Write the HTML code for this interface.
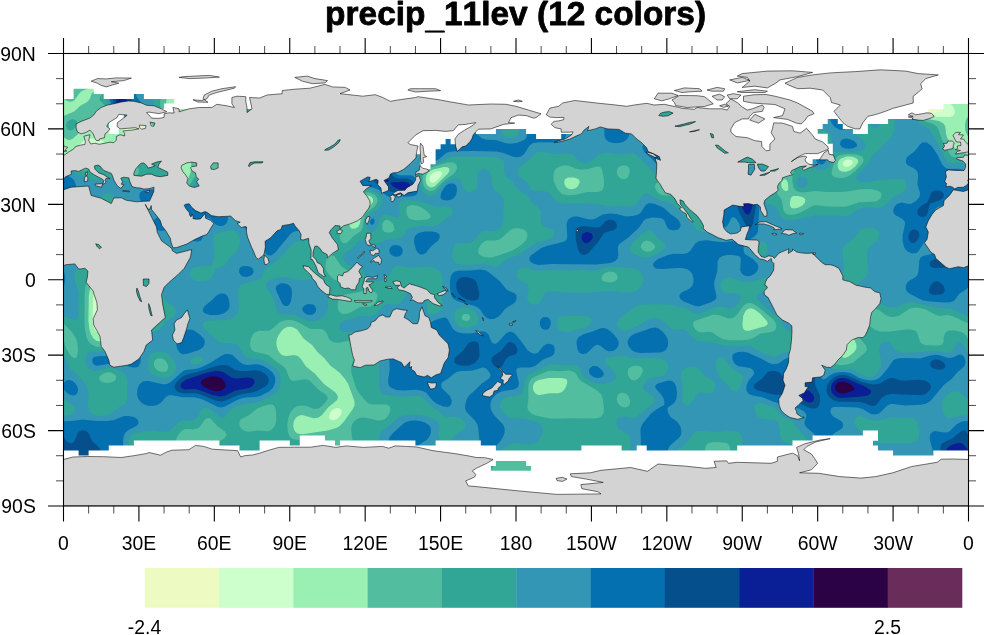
<!DOCTYPE html>
<html><head><meta charset="utf-8"><title>precip_11lev (12 colors)</title>
<style>
html,body{margin:0;padding:0;background:#fff;overflow:hidden}
svg{display:block}
.mj{stroke:#000;stroke-width:1.1;fill:none}
.mn{stroke:#000;stroke-width:0.7;fill:none}
.tl{font:20.3px "Liberation Sans",Arial,Helvetica,sans-serif;fill:#000}
.tt{font:bold 33.4px "Liberation Sans",Arial,Helvetica,sans-serif;fill:#000;font-kerning:none;letter-spacing:0.02px;stroke:#000;stroke-width:0.8px;stroke-linejoin:round}
.ld{fill:#d3d3d3;stroke:#000;stroke-width:0.55;stroke-linejoin:round}
</style></head>
<body>
<svg width="984" height="635" viewBox="0 0 984 635">
<rect width="984" height="635" fill="#fff"/>
<clipPath id="mc"><rect x="63.5" y="53.5" width="905.0" height="452.5"/></clipPath>
<g clip-path="url(#mc)">
<rect x="63.5" y="53.5" width="905.0" height="452.5" fill="#3296b4"/>
<path fill="#32a696" fill-rule="evenodd" d="M14.0 28.6L112.5 28.6L112.7 82.6L111.4 88.1L106.4 96.1L105.8 99.1L113.5 114.2L116.5 116.4L121.0 117.2L127.0 116.3L139.0 112.2L151.0 111.5L152.5 110.7L153.2 109.6L153.7 105.1L153.1 93.1L153.4 28.6L387.3 28.6L387.0 93.6L387.7 99.1L390.6 108.6L390.6 111.6L388.6 114.1L381.5 116.7L378.8 118.6L377.9 121.6L380.5 129.1L380.2 132.1L377.3 134.6L366.5 138.4L362.7 141.1L361.5 143.1L360.8 146.1L360.6 158.1L359.5 162.6L358.0 164.6L353.1 168.6L347.7 174.1L338.7 179.6L337.3 182.1L337.4 185.6L338.4 187.6L340.3 189.6L345.0 191.9L349.5 192.2L361.0 189.9L368.5 189.8L375.5 191.8L380.0 195.6L381.3 198.1L381.7 200.6L381.2 203.6L379.8 207.1L377.3 210.1L369.5 214.5L367.8 216.6L366.6 219.6L366.1 224.1L366.6 228.1L368.0 230.6L370.0 231.8L373.5 231.7L376.2 229.6L377.7 226.6L380.3 217.6L382.5 214.9L386.5 214.4L396.0 217.4L398.5 217.1L399.4 215.6L399.8 213.1L398.9 203.6L400.0 201.9L402.5 200.8L408.5 200.2L416.5 200.7L423.5 202.2L434.5 206.5L448.5 206.8L451.8 208.6L452.6 210.1L452.7 212.1L452.0 214.1L450.3 216.1L438.4 224.6L433.0 226.1L419.0 226.2L410.5 227.7L407.3 229.6L403.3 236.1L400.1 238.1L386.5 239.8L378.5 243.6L375.5 244.2L370.5 243.4L363.0 240.4L359.5 240.8L357.1 242.6L352.3 248.6L344.5 253.7L343.2 256.1L343.2 259.1L344.5 262.1L347.5 264.5L351.0 265.7L358.5 266.9L361.1 268.1L363.2 270.6L366.8 278.6L369.5 280.4L373.5 281.3L380.5 281.0L386.0 279.0L388.8 276.1L392.5 268.6L394.0 267.1L396.5 266.1L401.0 265.9L412.0 267.7L427.5 266.6L432.0 267.2L436.0 268.6L440.1 271.6L441.5 273.9L442.3 276.6L442.6 282.6L441.8 294.6L442.6 306.6L441.1 310.1L437.5 313.1L433.0 314.4L429.5 313.9L427.9 312.6L427.0 310.6L426.8 299.6L425.2 295.1L422.9 293.1L419.5 291.7L415.5 291.3L411.5 291.6L408.6 292.6L406.4 294.1L401.5 302.1L399.1 304.1L396.0 304.8L388.5 304.1L385.0 304.8L382.0 306.9L375.7 314.1L372.0 316.2L369.0 316.5L360.0 315.9L344.9 320.6L342.5 321.9L340.7 323.6L339.6 326.1L339.5 328.6L340.9 331.1L343.4 332.1L356.0 331.8L360.5 332.8L364.5 335.7L376.7 347.6L378.2 351.1L378.9 355.6L379.3 387.6L380.1 391.1L381.8 393.1L387.0 395.0L398.5 396.2L406.0 396.4L416.0 395.4L420.5 396.1L424.0 398.3L430.5 405.5L437.9 410.6L443.5 415.5L447.0 416.9L455.5 416.8L459.5 417.7L464.0 421.2L465.4 423.6L465.8 425.6L465.3 427.6L464.0 429.1L457.0 433.6L450.0 441.1L446.0 442.8L442.0 441.9L439.5 438.9L438.9 435.1L439.6 425.6L438.3 422.1L434.3 419.6L426.0 416.3L421.5 415.1L416.5 414.7L408.0 415.0L400.5 416.2L397.5 418.1L390.9 424.6L381.4 431.6L379.5 435.1L378.7 441.1L379.2 459.1L377.8 478.6L377.9 531.1L324.6 531.1L324.3 492.6L325.4 481.1L325.0 476.8L324.1 474.6L322.5 472.7L315.3 468.1L313.0 465.3L312.0 461.6L311.9 451.6L310.7 448.1L307.5 445.7L302.5 444.9L297.0 445.6L292.7 447.6L286.7 453.6L279.8 458.6L278.1 460.6L277.1 463.1L276.6 467.6L277.5 479.6L277.3 531.1L239.3 531.1L239.2 452.6L238.5 448.1L237.2 445.6L235.0 444.1L232.0 443.7L225.0 444.9L220.0 447.3L213.5 455.1L206.3 460.6L201.1 467.1L194.5 472.6L192.5 475.6L191.6 480.1L192.7 492.1L192.5 531.1L141.9 531.1L142.0 476.1L141.1 472.6L139.6 470.1L131.8 464.6L129.4 461.1L128.8 458.1L129.2 449.6L128.6 441.6L129.7 437.1L131.5 435.1L134.5 433.4L147.5 430.7L153.5 430.5L164.0 431.9L168.5 431.2L171.5 429.3L177.5 423.1L180.5 421.0L184.0 420.2L192.0 420.6L195.0 419.6L198.0 416.5L201.6 409.6L204.0 408.0L207.0 408.1L210.0 409.2L220.0 416.9L222.0 417.9L223.5 417.9L225.0 416.9L229.6 410.6L234.0 407.5L245.0 403.9L256.0 402.3L261.0 401.0L273.0 395.3L277.1 392.1L279.9 386.6L280.9 378.6L279.6 373.1L276.0 368.6L269.0 363.4L263.5 360.4L259.0 359.2L250.0 358.3L246.5 357.0L243.5 354.1L239.0 346.5L236.5 344.4L232.5 343.4L222.5 343.0L218.5 341.7L204.9 329.1L203.0 326.1L202.8 323.6L204.0 322.0L207.0 320.8L225.5 320.1L230.5 319.0L234.5 316.9L237.0 314.1L238.5 310.1L238.9 305.6L237.9 292.6L238.7 288.6L240.5 285.7L244.0 283.7L256.5 280.7L261.0 278.6L262.2 277.1L264.5 271.1L266.2 268.6L278.2 260.1L291.5 245.2L295.0 242.1L299.0 240.7L308.5 240.8L311.0 240.0L313.0 238.5L314.9 235.1L316.6 227.1L318.0 223.6L319.9 221.1L324.5 217.1L326.5 213.6L327.8 205.6L327.1 197.6L325.1 193.1L319.0 186.6L314.0 179.4L310.5 177.0L306.0 175.9L299.0 175.9L293.5 177.3L290.5 179.7L285.0 187.4L283.0 188.7L280.0 189.5L267.5 188.7L249.0 188.6L244.5 189.2L237.0 191.3L234.5 191.4L232.0 190.4L227.0 185.5L223.5 183.6L219.5 183.0L210.0 182.8L200.0 180.7L197.5 181.4L195.5 182.9L191.8 189.6L190.0 191.7L187.0 192.9L182.0 193.1L176.5 192.2L172.0 190.3L168.7 187.6L164.0 181.9L161.5 180.6L151.0 180.6L138.5 182.2L132.5 182.2L127.5 181.2L119.5 177.5L116.0 176.9L102.5 179.6L91.0 179.7L87.0 178.6L71.0 171.5L58.0 163.6L54.5 163.0L47.0 163.4L43.9 162.6L42.0 161.1L40.5 159.1L36.0 149.1L24.5 129.7L20.1 126.6L13.5 125.6L13.5 28.6ZM162.7 149.1L161.0 150.0L160.1 151.1L159.8 154.1L162.0 156.3L165.5 156.6L167.6 154.6L167.9 151.6L166.0 149.5ZM281.2 277.1L275.0 278.2L269.3 280.1L267.0 281.7L266.0 284.1L266.2 286.6L267.2 289.1L273.6 298.6L276.4 309.6L278.2 312.6L282.5 314.3L294.5 314.8L305.5 319.9L311.0 321.3L315.0 321.2L318.5 320.2L321.4 318.6L324.2 316.1L326.6 312.6L327.8 309.1L328.7 293.1L327.5 287.1L323.8 282.1L320.5 279.8L317.0 278.8L313.0 278.8L301.0 280.5L288.5 277.4ZM503.0 28.6L517.8 28.6L517.9 105.1L517.3 117.6L519.1 130.6L518.3 133.6L516.8 135.6L514.4 137.1L511.5 137.9L508.0 137.6L504.5 135.9L502.0 133.1L501.2 130.1L503.2 117.6L502.6 105.1ZM620.0 28.6L767.4 28.6L767.5 80.1L766.8 92.1L767.6 97.6L769.9 101.1L776.5 105.7L779.0 108.6L780.1 112.6L780.4 124.1L781.5 126.7L783.5 128.7L786.0 129.6L788.5 129.8L801.5 127.8L819.0 128.3L825.0 130.6L830.1 135.1L831.6 138.1L832.2 141.6L831.9 148.6L831.0 150.5L825.0 150.4L819.1 149.1L816.0 147.3L810.5 142.3L806.0 140.6L803.0 140.5L800.0 141.3L797.8 143.1L796.5 145.6L796.2 148.1L796.7 151.1L798.0 154.0L799.6 156.1L806.8 161.6L813.5 168.0L817.0 169.7L820.5 170.3L825.0 169.3L828.7 166.1L830.7 161.6L832.2 153.1L833.0 151.7L857.5 151.5L862.3 150.6L864.7 149.1L865.6 146.1L864.3 142.1L862.0 139.5L855.8 135.1L854.2 132.1L854.5 129.6L856.5 124.8L858.5 121.1L860.5 118.7L862.5 117.7L865.0 118.3L867.0 120.2L871.0 126.4L874.0 128.3L876.0 128.2L877.5 127.4L880.3 123.6L881.3 120.1L881.4 116.6L879.0 105.6L878.6 100.6L879.3 96.1L883.0 87.9L883.9 82.6L883.8 28.6L1018.5 28.6L1018.5 94.1L1012.4 95.1L1010.3 96.6L1009.6 98.6L1010.4 100.6L1012.0 101.8L1014.5 102.6L1018.5 102.9L1018.5 178.7L1000.5 180.0L994.5 179.5L975.5 171.3L963.0 163.6L959.5 163.0L951.5 163.4L948.1 162.1L945.5 159.1L940.8 149.1L929.8 130.1L926.9 127.6L918.5 123.0L917.0 120.8L914.5 113.4L912.5 110.0L905.5 104.4L900.0 97.6L897.5 96.1L894.5 95.7L891.5 97.1L890.3 100.1L891.1 104.6L895.2 111.1L896.1 114.1L895.9 117.1L894.3 124.6L893.7 132.1L892.8 135.1L891.0 137.9L884.6 143.6L879.2 150.1L872.3 155.6L867.7 164.6L858.4 173.6L856.8 176.1L856.2 178.1L856.5 179.6L858.0 181.0L863.0 182.2L868.5 181.8L879.0 179.9L897.0 178.8L902.5 179.1L905.1 180.6L906.1 182.6L906.4 186.1L905.7 189.1L904.5 191.1L902.4 192.6L893.5 196.7L885.5 205.1L882.0 207.2L878.0 207.8L866.5 207.3L861.5 207.9L857.5 209.6L850.0 215.2L846.0 216.4L833.5 215.6L815.0 215.4L794.5 220.0L789.0 220.3L785.0 219.5L782.2 218.1L780.2 216.1L776.5 208.3L774.9 206.1L772.5 204.7L767.5 203.9L765.5 201.6L764.9 198.6L765.3 195.1L769.1 187.6L770.1 183.1L769.5 176.6L767.5 171.3L765.5 168.9L763.0 167.4L758.5 166.1L753.5 165.6L749.0 166.1L745.8 167.6L743.8 170.1L740.3 177.6L733.5 181.9L727.0 187.3L722.5 188.8L709.5 189.5L706.0 191.0L703.5 193.6L701.9 197.1L701.1 201.6L700.9 206.6L701.7 210.6L704.1 214.6L711.6 220.6L713.6 225.1L713.7 227.6L713.0 229.7L711.5 231.2L709.0 232.1L702.0 231.9L696.5 229.4L687.3 218.6L673.5 204.4L670.5 203.0L659.0 199.9L647.5 193.5L645.5 193.5L643.5 194.5L636.5 204.0L634.0 205.8L631.5 206.6L621.0 205.7L609.5 206.4L595.5 204.0L574.5 203.1L564.0 203.9L559.5 203.1L556.0 201.0L550.0 194.1L547.0 191.9L543.5 191.1L535.0 190.8L532.0 189.7L526.6 182.1L519.8 177.6L518.2 175.6L517.6 171.1L519.2 167.1L527.6 161.1L533.5 154.7L536.5 152.6L541.0 151.8L554.0 154.1L566.0 153.7L570.0 154.1L574.0 156.0L580.3 162.1L584.5 163.4L589.5 162.0L597.5 155.4L602.0 153.6L608.5 153.1L620.5 154.4L631.5 153.2L634.5 154.1L637.5 156.1L646.5 164.4L654.0 172.5L659.0 175.2L663.5 175.9L673.5 175.8L683.5 177.3L686.5 177.3L688.5 176.6L690.5 175.1L692.4 172.6L693.8 169.6L694.7 165.6L694.9 161.6L694.1 158.1L692.7 155.6L683.9 149.1L678.5 142.7L671.5 136.7L665.5 128.7L655.9 123.6L650.0 117.7L642.5 112.1L635.0 102.8L629.5 93.3L622.4 87.6L620.0 84.6L619.0 79.6L620.1 68.1ZM800.9 176.6L799.0 177.4L797.5 179.1L796.7 181.1L796.6 183.6L797.3 185.6L798.7 187.1L800.5 187.8L803.0 187.9L805.0 187.1L806.7 185.6L807.5 183.6L807.6 181.6L806.6 179.1L805.2 177.6L803.0 176.6ZM451.0 157.1L492.5 156.9L498.0 157.8L502.0 159.7L503.8 161.6L504.5 163.6L504.0 171.6L505.1 175.1L507.0 177.3L512.5 181.6L518.0 190.0L526.5 195.1L531.6 202.6L539.7 209.1L541.3 212.6L541.0 221.1L541.7 224.1L544.5 226.8L551.0 229.2L553.2 230.6L554.3 233.1L553.2 236.1L551.5 237.8L549.0 239.2L537.0 242.5L519.0 254.6L505.6 259.6L499.0 265.5L497.0 266.4L494.5 266.4L487.0 264.4L482.0 263.7L467.5 264.9L462.0 264.8L458.0 264.1L455.0 262.6L452.9 259.6L452.2 254.6L453.5 247.7L455.8 244.1L459.5 242.9L467.5 243.4L470.5 242.8L473.5 240.9L479.5 233.9L482.5 231.7L486.0 230.8L495.5 230.9L498.0 229.9L500.5 227.6L502.7 224.1L503.6 220.6L503.5 211.1L504.3 202.1L503.7 199.1L502.3 196.6L495.5 190.6L493.2 187.6L492.1 184.1L491.6 176.6L490.4 173.1L488.0 170.5L484.5 169.0L481.0 169.7L478.1 172.6L477.2 176.1L477.6 183.6L477.3 186.6L475.6 189.6L473.0 191.4L469.0 192.2L466.0 191.3L464.2 189.1L461.0 180.5L459.0 178.9L456.0 178.5L450.5 179.8L446.0 182.1L442.5 185.4L437.0 192.5L433.5 195.1L429.0 195.8L426.5 195.1L424.5 193.7L421.9 190.1L420.2 184.1L418.7 172.1L418.8 169.6L419.7 167.6L423.0 165.7L437.0 163.4L447.0 158.4ZM401.0 164.5L403.1 164.6L405.4 166.1L406.0 168.1L405.0 169.6L402.0 170.6L399.5 169.6L398.8 168.1L399.0 166.6ZM1014.5 192.5L1018.5 192.2L1018.5 351.0L1000.5 351.3L995.0 351.9L993.0 352.9L991.6 354.6L990.5 360.1L991.1 364.1L992.6 367.1L995.0 369.6L997.5 370.7L1001.5 370.9L1012.0 368.3L1018.5 367.7L1018.5 415.0L1002.0 415.3L997.9 414.1L994.8 411.6L993.4 409.1L992.8 406.6L993.8 393.6L993.4 390.1L992.0 386.6L987.2 380.1L974.5 367.7L965.5 348.6L962.5 344.1L959.5 341.8L958.0 341.8L957.0 342.5L953.1 349.6L951.0 351.5L949.0 352.3L946.0 352.4L934.0 350.8L921.0 352.1L905.0 352.7L900.5 352.4L897.0 351.3L894.5 349.4L891.4 344.6L889.5 342.8L886.5 341.8L883.5 342.2L880.7 344.1L879.3 347.6L879.4 352.6L881.4 362.1L880.9 365.6L879.6 369.6L877.7 373.1L875.0 375.6L872.0 376.9L868.5 377.2L861.8 375.6L854.5 370.6L851.0 369.2L846.5 368.7L835.5 369.0L832.0 368.5L829.9 367.1L826.7 361.1L824.0 358.8L820.5 357.8L812.0 357.0L805.5 353.7L802.0 352.6L793.5 351.9L786.0 352.2L781.5 353.5L775.5 356.6L772.5 356.9L761.5 352.5L753.0 347.6L749.5 346.3L745.0 345.9L729.0 346.0L721.0 344.7L710.0 341.7L698.5 341.2L694.0 338.8L685.5 330.1L682.5 329.1L676.0 329.8L673.0 329.3L670.0 327.4L663.0 320.8L657.5 318.5L653.0 318.1L649.0 319.0L637.6 326.1L625.5 330.7L623.0 330.7L620.6 329.6L618.6 327.6L617.3 325.1L617.3 321.6L619.6 318.6L633.5 307.6L637.0 305.8L641.5 304.8L650.5 304.3L669.5 304.5L684.4 308.1L693.5 312.7L697.5 313.7L702.0 312.9L711.0 308.6L717.0 307.0L721.5 306.8L729.0 308.5L732.5 308.3L735.5 306.6L738.6 303.1L740.5 299.6L740.6 296.6L739.3 294.6L737.0 293.4L734.0 293.0L727.0 293.5L725.0 293.0L723.0 291.7L721.0 288.7L720.4 285.6L721.1 282.6L723.0 279.9L726.5 277.8L730.5 277.3L741.5 281.6L749.0 282.3L754.5 281.3L763.0 278.0L766.5 277.6L773.0 278.9L777.4 281.6L779.5 285.6L779.0 290.0L777.0 292.4L774.0 293.5L763.0 292.1L759.0 292.9L757.3 294.1L756.2 296.1L756.3 297.6L757.4 299.6L770.0 311.2L779.3 318.1L781.3 321.1L784.0 327.6L786.5 330.3L790.0 331.3L797.5 330.9L805.0 331.9L808.5 331.5L810.5 330.3L811.8 328.6L815.5 318.6L818.5 315.2L823.5 313.8L835.5 313.7L838.0 312.7L839.4 311.1L840.9 306.1L841.0 304.1L840.5 303.1L837.5 302.7L826.0 303.3L822.5 302.8L820.2 301.6L819.0 300.1L818.5 298.1L818.8 296.1L821.4 292.6L829.0 287.1L839.5 277.6L842.9 273.1L844.0 267.6L842.5 257.6L842.3 253.1L843.0 249.1L844.5 246.0L846.8 243.6L853.2 238.6L860.5 229.9L864.0 228.2L869.0 227.5L873.5 228.1L876.5 229.6L878.6 232.1L879.2 235.6L878.6 238.1L877.4 240.1L869.5 246.6L867.2 250.6L866.7 255.6L868.3 267.1L867.3 274.1L866.0 276.6L864.1 278.6L845.7 293.6L843.1 298.6L842.8 300.6L843.5 301.6L866.5 301.7L874.5 302.2L880.5 303.4L889.5 307.2L893.0 307.8L897.5 306.9L906.5 302.2L912.0 301.9L937.0 307.8L951.5 309.0L963.0 314.6L972.5 317.5L978.5 320.0L980.7 320.1L982.2 318.6L983.2 314.6L983.8 297.6L983.0 289.6L979.7 279.6L979.7 274.1L981.0 271.3L982.9 269.6L992.5 266.6L993.5 265.1L993.7 263.1L993.1 259.6L991.5 256.6L989.1 254.6L983.0 251.3L981.0 249.0L980.0 244.1L980.8 237.6L982.7 233.1L985.5 230.8L989.0 229.8L999.5 229.4L1002.5 228.1L1004.5 226.3L1006.2 222.6L1006.9 218.1L1005.5 204.6L1006.0 200.1L1007.0 197.6L1009.1 195.1L1011.5 193.5ZM106.0 193.6L108.5 193.3L111.0 194.1L113.0 195.8L114.4 198.6L115.2 204.6L114.2 219.6L115.1 223.6L117.0 226.8L123.6 232.6L129.5 239.6L136.2 245.1L141.0 251.5L143.0 253.4L147.0 254.8L158.0 255.4L161.0 256.8L163.0 259.1L164.2 262.1L164.6 266.1L163.4 292.6L163.8 297.1L166.0 301.1L174.2 307.1L175.6 309.6L175.9 312.1L175.4 314.1L174.0 316.1L166.3 321.1L161.0 328.3L158.0 330.5L154.0 331.5L149.5 331.5L146.0 330.3L140.0 326.9L137.5 326.7L135.0 328.5L129.0 338.3L124.0 342.1L116.4 345.6L107.0 351.0L102.5 351.7L91.0 351.4L88.7 352.1L87.0 353.6L85.6 357.6L85.8 362.6L87.6 367.1L90.5 369.9L95.0 371.0L107.5 368.2L111.5 368.1L115.5 368.7L119.5 370.2L123.2 372.6L125.8 375.6L127.3 379.1L127.3 397.6L126.8 401.1L125.9 403.1L124.3 404.6L118.0 408.1L109.7 414.1L105.5 415.5L100.5 415.9L96.5 415.4L93.5 414.3L91.0 412.6L89.4 410.6L88.3 408.1L87.8 405.1L88.7 392.6L87.0 386.6L82.3 380.1L69.5 367.7L62.0 351.2L58.5 345.3L56.0 342.5L54.0 341.7L52.3 342.1L48.1 349.6L46.0 351.5L44.0 352.3L41.0 352.4L29.5 350.8L13.5 352.1L13.5 304.8L22.5 305.4L34.0 308.1L46.5 309.0L59.0 315.0L67.5 317.5L74.0 320.1L75.5 320.2L76.5 319.6L77.5 317.6L78.3 313.1L78.6 295.6L77.9 289.6L74.7 279.6L74.7 274.1L76.0 271.2L78.0 269.5L87.5 267.1L88.7 265.6L88.9 263.6L88.2 259.6L86.5 256.6L84.1 254.6L78.4 251.6L76.1 249.1L75.0 244.6L75.7 238.1L77.5 233.5L80.5 230.8L84.0 229.9L94.0 229.5L96.5 228.6L98.6 226.6L100.2 223.1L101.0 218.1L99.7 204.6L100.0 200.6L102.1 196.1ZM229.0 230.5L232.0 230.3L234.5 231.1L237.3 233.6L239.3 237.1L240.1 240.1L240.0 243.6L239.1 247.6L237.5 250.8L230.5 257.1L225.0 264.9L223.0 266.2L217.1 268.1L215.5 269.1L212.4 276.6L210.0 279.2L206.5 280.7L201.0 281.3L196.0 280.8L192.3 279.1L190.3 276.6L189.6 273.6L190.3 270.6L192.4 268.1L197.0 266.5L209.5 266.0L211.5 265.3L212.5 264.1L213.5 260.6L214.5 252.1L213.1 239.6L213.3 237.1L214.2 235.1L217.5 233.2ZM648.5 230.5L650.5 230.3L652.0 230.9L656.7 237.1L664.1 243.1L665.3 245.6L664.3 248.6L661.7 251.1L656.9 254.1L651.0 256.8L647.0 257.8L644.0 257.8L640.5 257.0L632.0 252.8L630.4 251.1L629.9 249.1L630.6 246.6L632.4 243.6L635.8 239.6L640.0 235.7L645.0 232.2ZM760.5 242.0L763.0 241.9L764.8 242.6L766.3 244.1L767.4 246.6L767.7 249.6L767.3 252.1L766.0 254.2L764.0 255.4L761.5 255.5L758.1 254.1L755.5 252.0L754.0 249.6L754.0 247.1L755.2 245.1L757.5 243.3ZM610.5 267.1L617.5 267.0L632.5 268.3L638.3 270.1L641.4 273.1L643.0 277.1L643.1 281.6L641.4 286.1L639.4 288.6L636.5 290.7L633.0 291.9L628.5 292.6L623.5 292.5L610.0 290.8L589.5 292.4L564.5 292.5L553.5 291.2L549.5 291.3L546.5 292.4L544.5 294.1L540.5 301.6L539.0 303.4L536.5 304.6L533.5 304.8L529.5 303.3L527.5 300.5L527.2 297.1L528.7 288.6L527.7 285.1L525.0 282.5L518.2 279.1L517.0 277.7L516.5 276.1L516.9 273.1L518.4 270.1L520.5 268.2L523.0 267.5L526.0 267.8L533.5 270.1L538.0 270.7L551.0 270.1L568.0 270.4L581.0 270.1L593.0 270.9L596.5 270.6L605.0 268.0ZM459.5 308.0L463.5 307.6L468.0 308.1L472.0 309.4L474.6 311.1L476.8 314.1L478.4 318.6L478.3 321.6L477.0 324.1L472.5 326.8L467.0 328.0L461.5 327.4L457.5 325.1L454.9 320.6L454.2 314.1L455.9 310.1ZM562.0 316.1L586.0 316.1L590.5 318.1L591.6 319.6L591.8 321.6L591.0 323.6L589.7 325.1L585.5 327.5L569.0 331.8L563.5 331.8L561.0 331.1L559.0 329.7L557.8 327.6L557.2 325.1L557.3 321.6L558.1 319.1L559.5 317.3ZM159.0 352.1L164.5 352.5L168.5 354.4L172.3 358.6L175.7 364.6L176.1 368.1L175.1 371.6L172.3 375.1L168.5 377.6L163.5 378.3L156.9 376.6L151.5 373.8L148.7 370.1L148.0 367.1L147.9 363.1L148.4 359.1L149.5 356.1L151.0 354.2L152.8 353.1ZM620.5 355.6L624.0 355.7L631.0 357.9L636.0 358.6L654.5 358.1L661.5 358.8L664.5 359.9L666.6 361.6L668.0 364.1L668.6 367.1L668.0 371.1L665.1 374.6L660.5 376.7L652.0 377.7L649.5 378.4L646.1 381.1L643.7 385.1L643.0 388.1L644.0 390.8L652.1 395.6L654.6 398.1L654.9 400.6L653.4 403.1L636.5 417.1L632.5 418.0L624.5 416.6L621.0 416.6L618.0 418.1L616.7 420.6L616.6 424.1L617.9 427.6L620.5 430.0L628.0 434.4L629.8 437.1L630.6 440.1L629.8 454.6L630.0 531.1L462.7 531.1L462.8 492.1L462.3 479.1L463.0 474.6L464.5 471.7L466.5 470.1L469.5 469.2L481.0 468.9L485.5 467.9L489.0 465.0L493.5 456.8L496.0 453.8L509.0 444.9L512.0 443.5L515.0 443.0L527.0 444.6L534.0 443.9L536.6 442.6L538.8 440.6L542.2 434.1L542.9 430.6L542.5 427.6L541.0 425.1L538.0 422.8L533.5 421.0L523.5 418.5L511.5 418.1L508.5 416.9L505.0 414.4L502.0 411.1L500.3 407.1L500.5 403.1L502.5 399.6L504.5 398.0L507.5 396.7L517.5 395.7L521.0 394.2L522.5 392.4L523.4 390.1L525.1 379.1L527.0 375.6L529.5 373.9L538.0 370.3L545.5 365.9L549.5 364.5L553.0 364.4L561.5 365.4L571.5 365.0L575.5 365.6L577.8 366.6L579.4 368.1L582.8 374.6L584.7 377.1L591.0 381.3L596.0 383.4L600.0 384.1L604.0 383.9L609.0 382.4L615.0 379.5L616.3 377.6L616.4 375.6L614.7 372.1L606.6 364.6L605.1 362.1L605.0 360.0L606.0 358.8L607.6 358.1ZM198.0 356.6L201.5 356.6L203.4 357.6L203.6 359.6L202.2 361.6L199.5 363.4L196.5 364.3L193.5 364.3L191.1 363.1L190.5 361.1L191.7 359.1L194.5 357.5ZM719.5 357.5L722.0 357.4L724.5 358.5L732.0 368.4L734.5 370.3L740.5 373.3L742.3 375.1L742.9 378.1L741.5 383.7L739.4 388.6L737.0 391.2L734.5 391.6L732.0 390.3L726.0 382.9L720.2 378.1L718.8 376.1L716.3 368.6L715.6 363.1L716.6 359.6ZM690.0 366.6L694.5 366.7L698.6 368.6L705.8 376.6L714.3 381.6L715.5 384.1L715.6 387.1L714.3 391.1L711.5 393.3L708.5 393.6L701.0 392.6L698.0 393.5L695.7 395.6L691.3 403.1L689.0 404.7L686.5 405.1L684.0 404.0L682.4 400.6L682.2 387.1L680.8 375.1L681.7 372.1L683.6 369.6L686.5 367.7ZM49.5 391.1L52.5 391.4L55.0 392.6L63.5 399.3L72.8 405.1L74.5 407.1L75.1 409.1L74.9 411.1L73.6 413.1L71.5 414.6L69.0 415.4L56.5 415.5L45.5 418.0L43.0 417.9L40.7 416.6L38.8 413.6L37.3 408.1L36.8 404.1L37.4 400.6L39.5 397.2L42.5 394.2L46.0 392.0ZM954.5 391.1L957.5 391.4L960.0 392.6L968.5 399.3L977.7 405.1L979.4 407.1L980.0 409.1L979.8 411.1L978.5 413.1L976.3 414.6L973.5 415.4L961.0 415.6L950.5 418.0L947.5 417.8L945.5 416.6L943.8 413.6L942.2 407.6L941.8 403.6L942.4 400.6L944.5 397.1L947.5 394.2L951.0 392.0ZM757.0 403.6L759.5 403.1L762.5 403.5L773.3 407.6L777.7 410.6L782.5 416.4L791.5 420.0L797.2 428.6L805.0 436.6L806.1 439.6L805.4 442.1L804.0 443.3L802.0 444.0L795.0 444.3L788.0 443.5L783.5 441.5L781.5 439.4L780.2 436.6L779.2 425.1L778.0 421.6L775.0 420.0L763.0 418.9L758.5 416.9L755.9 413.6L754.4 408.6L754.8 405.6ZM857.5 416.5L861.5 416.5L870.0 419.9L875.5 420.9L880.5 420.3L891.0 417.0L900.0 417.7L909.0 417.6L913.0 418.3L916.0 420.2L918.1 424.1L919.4 431.6L918.9 437.6L917.6 440.1L916.0 441.5L910.5 443.2L892.0 442.9L880.0 443.5L874.5 442.7L871.0 440.7L865.0 434.1L858.0 429.0L855.7 426.6L854.4 423.6L854.3 420.1L855.5 417.7ZM697.5 431.1L703.0 430.9L717.5 432.2L730.0 430.7L734.0 430.7L738.5 432.1L740.2 433.6L741.4 435.6L742.3 440.6L741.1 454.6L741.3 531.1L678.2 531.1L678.5 467.1L677.2 456.6L677.3 453.1L679.4 448.6L688.0 441.5L693.3 433.1L695.0 431.9Z"/>
<path fill="#53bd9f" fill-rule="evenodd" d="M14.0 28.6L110.6 28.6L110.8 83.1L110.0 86.1L108.3 89.1L100.3 96.6L99.6 98.6L99.9 100.6L106.5 107.1L111.0 116.1L114.0 118.5L118.0 119.2L123.0 119.0L137.5 115.2L144.0 114.9L149.4 116.6L155.4 122.6L158.5 123.8L160.5 123.4L162.0 122.4L163.2 120.6L163.6 118.6L163.1 115.6L160.6 109.1L160.1 105.6L160.8 92.6L160.7 28.6L242.4 28.6L242.3 80.1L242.8 92.1L242.1 98.1L241.2 100.6L239.7 102.6L232.0 108.1L226.0 115.5L218.4 121.6L216.2 125.6L214.9 131.6L214.8 145.1L213.8 154.6L214.2 158.1L216.5 162.1L225.0 168.7L226.2 171.6L225.4 174.6L222.5 176.6L216.5 177.6L211.0 177.2L202.0 175.1L198.0 175.4L195.5 176.7L193.5 178.6L189.0 186.6L186.5 189.0L182.0 190.1L177.0 189.0L173.4 186.1L171.8 181.6L173.5 170.1L173.4 162.1L174.1 153.6L173.8 150.6L173.0 148.6L171.2 146.6L169.0 145.4L166.0 144.7L162.0 144.8L158.5 146.0L156.0 148.2L152.5 154.2L150.5 156.3L147.5 157.7L140.5 159.3L138.3 160.6L137.3 163.6L138.9 170.1L138.9 172.6L137.0 175.1L134.0 176.0L129.5 175.2L114.6 167.6L112.5 165.5L108.5 158.1L105.0 156.0L100.5 156.0L96.0 157.9L93.2 160.6L88.8 168.6L86.0 170.3L82.5 170.8L77.0 170.0L71.5 167.9L67.5 165.3L61.5 160.2L58.5 158.5L55.5 157.8L49.0 157.3L46.5 156.3L44.2 153.6L37.3 140.6L33.6 129.6L31.5 126.2L28.5 124.0L24.0 122.2L19.0 121.2L13.5 121.0L13.5 28.6ZM70.4 119.6L67.2 121.6L65.9 125.1L67.0 128.8L68.5 130.1L70.0 130.5L72.1 130.1L74.5 128.4L76.1 126.1L77.1 123.1L76.7 121.1L75.5 119.9L73.0 119.3ZM888.5 28.6L1018.5 28.6L1018.5 90.3L1012.0 90.8L1007.2 92.6L1004.0 95.6L1002.8 99.6L1003.6 103.1L1006.5 105.8L1011.5 107.3L1018.5 107.8L1018.5 157.1L1007.5 156.5L1002.0 157.5L998.1 160.6L993.5 168.8L991.0 170.2L987.0 170.7L981.5 169.8L976.5 167.9L972.5 165.3L966.5 160.3L963.5 158.6L960.5 157.8L953.5 157.2L950.6 155.6L942.0 140.1L938.5 129.6L936.8 126.6L933.2 124.1L925.0 121.3L921.5 119.3L919.1 116.6L914.5 108.7L907.3 102.6L901.6 95.6L898.5 93.5L891.5 90.8L889.3 88.6L888.4 85.6L888.0 80.6ZM975.4 119.6L972.1 121.6L970.9 125.1L972.0 128.8L973.4 130.1L975.0 130.5L977.5 129.9L979.5 128.3L981.3 125.6L982.0 123.1L981.6 121.1L980.5 119.9L978.0 119.3ZM784.5 141.1L787.0 141.6L789.0 143.8L791.8 155.1L795.0 164.1L795.2 167.1L792.6 174.6L792.3 181.1L793.5 187.6L794.8 189.6L796.5 190.9L799.5 191.9L803.5 192.4L816.0 190.9L826.5 191.9L839.5 191.9L847.5 191.4L861.0 189.2L870.5 189.1L876.5 190.2L880.3 192.1L881.6 194.6L880.8 198.1L878.8 200.1L875.5 201.5L859.5 202.2L845.5 206.7L826.5 206.4L818.0 205.2L815.0 205.3L812.0 206.3L802.7 211.6L796.5 214.0L791.0 215.0L786.5 213.9L784.5 212.1L783.4 210.1L782.0 200.6L777.0 192.9L775.9 186.6L776.6 178.1L779.7 166.6L778.3 153.6L778.5 147.6L780.5 143.1L782.5 141.6ZM848.0 154.1L856.5 154.6L861.5 156.3L862.8 157.6L863.5 159.6L863.3 161.6L862.1 164.1L855.5 170.8L850.5 174.7L847.0 176.7L843.5 177.8L840.0 178.0L836.5 177.6L833.5 176.4L831.9 174.6L831.6 172.1L834.5 161.6L836.0 158.1L837.5 156.5L840.0 155.1ZM447.0 162.6L452.0 162.3L454.4 163.1L456.0 164.3L456.8 165.6L457.1 167.6L456.7 169.6L455.4 172.1L452.8 174.6L444.0 180.8L434.5 190.2L430.5 191.2L426.5 189.8L423.7 186.1L422.6 181.1L423.0 175.1L424.8 171.1L426.5 169.5L429.1 168.1ZM563.0 165.5L568.0 165.6L576.0 168.8L581.5 169.8L587.0 169.3L597.0 166.5L600.0 167.0L601.2 168.1L602.1 170.1L603.9 179.1L604.1 185.1L603.0 188.9L601.0 191.0L598.2 192.1L587.0 192.1L574.5 195.1L567.0 195.3L562.0 193.9L558.8 191.1L555.7 186.1L553.7 181.1L553.3 176.6L554.0 172.1L555.6 169.1L558.5 166.9ZM622.0 165.6L625.0 165.5L627.1 166.1L628.8 167.6L629.6 169.6L629.6 173.1L628.6 176.1L627.0 178.1L624.5 179.2L622.0 179.1L619.5 177.7L617.7 175.6L616.9 173.1L616.9 170.6L617.9 168.1L619.5 166.6ZM665.5 181.1L672.0 181.4L676.5 183.3L677.7 184.6L678.6 186.6L678.4 188.6L677.4 190.6L673.5 193.6L668.0 195.4L663.0 195.3L659.0 193.5L657.1 191.6L655.6 189.1L655.0 186.6L655.4 184.6L656.7 183.1L658.5 182.2ZM362.0 192.6L369.0 192.6L374.2 194.6L376.2 196.6L377.2 198.6L377.4 200.6L376.9 203.1L374.6 206.6L368.0 211.4L365.5 214.4L364.0 218.6L362.4 228.1L361.0 231.1L352.9 236.6L347.5 242.2L345.0 243.2L343.0 242.9L340.7 240.6L339.7 236.6L342.1 225.6L341.9 220.6L340.0 218.4L334.0 216.2L332.6 214.6L331.9 212.6L331.2 204.1L332.1 195.1L333.0 193.6L335.0 193.1L343.5 195.6L348.0 196.0ZM412.0 205.1L418.1 206.1L424.3 209.1L429.7 214.1L430.7 216.1L430.4 217.6L429.3 218.6L427.0 219.4L418.5 220.2L413.0 220.0L409.5 218.6L408.0 217.0L406.8 214.6L406.3 209.1L407.0 207.2L408.0 206.1ZM385.5 220.0L387.5 219.9L389.5 220.6L393.1 224.1L394.5 228.6L394.0 230.4L392.8 231.6L390.5 232.5L387.0 232.6L384.5 231.8L383.0 230.5L382.1 227.6L382.4 224.1L383.5 221.6ZM513.5 228.5L518.0 228.2L522.6 229.1L525.9 231.1L527.3 233.6L527.5 236.6L526.0 240.1L523.4 243.1L519.1 246.6L512.3 250.6L493.0 257.3L489.0 257.5L484.5 257.0L481.0 255.8L478.8 254.1L478.1 251.6L478.8 248.6L481.0 244.6L483.5 242.0L487.0 240.4L495.5 240.4L499.0 239.4L502.5 237.2L510.0 230.3ZM646.5 240.6L650.5 241.4L654.3 244.6L655.0 246.1L655.0 247.6L653.0 250.1L650.0 251.4L646.5 251.7L643.5 250.6L641.5 248.8L640.7 246.6L641.5 244.0L643.8 241.6ZM330.5 255.6L332.5 255.5L334.5 256.3L341.4 266.6L351.6 273.1L352.5 274.6L352.6 276.1L351.1 278.6L346.0 280.9L339.0 281.4L334.2 279.6L329.1 275.1L326.0 270.1L325.4 264.6L327.0 258.5L328.5 256.7ZM1015.0 264.1L1018.5 264.0L1018.5 346.4L1001.5 346.5L997.1 345.1L994.1 342.6L992.0 338.6L990.4 332.6L989.4 323.1L989.2 304.1L990.2 286.6L991.2 283.1L992.4 281.1L1001.4 275.6L1007.5 266.2L1010.5 264.7ZM105.5 264.5L109.0 264.6L112.5 265.5L114.8 267.1L116.3 269.6L117.2 274.1L116.7 285.6L117.7 295.6L116.9 305.1L117.1 308.6L118.0 310.9L119.5 312.7L126.5 316.6L128.8 318.6L130.1 321.6L130.2 325.1L128.2 333.1L126.5 336.1L124.0 338.6L120.5 340.6L106.5 346.6L100.5 347.4L95.0 346.3L91.0 344.2L88.2 341.1L86.3 336.6L85.1 331.1L84.5 324.1L84.6 294.6L85.6 286.1L87.1 282.1L88.6 280.6L95.5 276.3L97.4 273.6L101.0 266.9L103.0 265.3ZM609.5 271.6L613.5 272.0L616.2 273.6L617.8 276.6L617.0 279.6L614.5 281.5L610.5 282.4L606.0 282.1L603.0 280.9L601.4 278.6L602.2 275.6L605.0 273.1ZM364.0 291.1L372.0 291.1L375.0 292.1L376.8 293.6L377.5 295.6L377.1 298.6L375.4 302.1L373.0 305.0L369.0 306.8L362.0 306.8L359.0 307.4L351.0 312.3L347.0 313.8L342.5 313.9L339.3 312.1L337.8 308.6L337.7 303.6L338.7 299.6L341.0 296.6L346.0 294.4ZM748.0 303.0L752.0 303.3L757.0 305.9L773.3 319.6L775.2 322.1L776.3 325.1L776.2 328.1L775.0 330.3L771.5 332.0L760.5 333.4L752.5 338.4L749.0 339.6L743.0 340.2L730.0 340.2L725.0 339.6L721.5 338.6L713.5 333.2L711.0 332.1L708.5 331.8L702.0 332.6L699.0 332.1L695.8 330.1L693.5 326.6L693.0 323.1L694.5 321.1L713.0 314.8L718.5 314.9L728.5 318.5L733.0 318.1L736.0 315.8L743.5 305.9L746.0 303.9ZM852.0 307.1L869.5 307.7L874.5 308.4L879.0 310.3L886.5 315.6L891.0 317.0L895.0 316.8L899.0 315.7L909.5 308.8L914.5 307.6L920.0 308.1L925.7 309.6L937.0 315.6L940.0 315.9L947.5 315.1L952.0 316.1L967.5 323.1L971.1 326.1L978.2 333.6L980.8 338.1L982.3 343.6L982.7 350.6L981.9 356.1L981.0 357.6L979.5 358.2L977.5 357.4L975.5 355.5L971.5 349.0L966.7 336.1L964.5 333.7L961.5 332.1L954.0 330.3L948.5 330.7L946.1 332.1L944.5 334.4L943.7 337.1L943.4 342.6L942.0 344.5L939.5 345.3L935.0 345.5L925.0 344.9L922.0 343.7L920.2 342.1L917.2 333.1L915.7 331.1L913.5 329.9L907.5 329.2L890.0 331.6L879.5 331.4L874.0 329.2L864.5 321.5L861.0 319.3L857.0 318.3L847.0 317.3L846.1 316.6L845.7 315.1L846.5 310.6L848.5 308.4ZM14.0 308.7L18.5 309.1L22.0 310.0L30.0 314.8L32.5 315.7L42.0 315.1L46.0 315.7L59.0 321.1L63.3 323.6L72.0 332.1L76.0 338.6L77.3 343.1L77.9 348.6L77.5 354.1L76.5 357.2L75.0 358.2L73.5 358.0L69.5 354.2L66.0 347.7L62.5 337.5L60.5 334.6L57.0 332.3L51.5 330.7L45.5 330.3L41.4 332.1L39.3 335.6L38.6 343.1L36.5 344.9L31.0 345.4L13.5 344.8L13.5 308.7ZM464.5 314.0L467.5 313.9L469.8 315.6L470.2 318.1L468.5 320.4L465.0 321.1L462.4 319.6L461.8 318.1L462.0 316.1L463.0 314.8ZM825.0 317.6L833.0 317.6L841.5 318.4L844.0 319.3L847.9 326.6L856.0 333.8L866.0 345.6L867.1 349.1L865.6 352.1L853.0 362.8L847.3 364.6L840.5 365.2L837.3 364.6L835.0 363.2L831.0 356.5L829.0 354.4L819.0 350.1L817.4 348.1L816.7 345.1L818.1 337.6L817.5 329.6L817.8 325.1L818.8 322.1L820.1 320.1L822.1 318.6ZM288.0 320.1L292.5 320.2L296.5 321.3L310.5 329.0L320.5 329.1L323.5 329.8L326.0 332.1L329.5 339.8L333.0 342.1L336.5 342.7L340.5 342.6L350.5 340.2L354.0 339.9L357.5 340.6L361.0 342.6L364.6 347.1L365.3 349.6L365.1 351.6L363.5 353.7L357.0 357.1L354.5 359.2L352.2 363.1L351.0 367.6L351.4 373.1L356.1 388.1L358.5 392.3L364.0 399.3L368.5 403.5L373.0 404.6L386.0 404.4L388.9 405.6L390.2 407.6L390.2 410.6L388.8 414.6L386.6 417.6L384.0 419.4L381.0 420.3L378.0 420.4L366.0 417.8L360.5 417.8L357.5 418.8L355.0 420.5L353.0 422.8L351.6 425.6L351.1 430.1L352.7 442.6L351.7 478.6L351.8 531.1L330.5 531.1L330.8 479.6L330.5 475.6L329.6 472.1L327.5 469.0L320.5 464.7L317.9 461.6L317.1 457.6L317.5 446.6L316.8 444.1L315.7 442.6L313.4 441.1L310.0 440.2L297.0 439.8L292.5 438.9L289.5 436.5L287.8 431.6L287.3 424.6L288.2 418.1L290.3 412.6L293.5 408.5L297.5 406.1L302.5 405.4L306.5 406.0L314.5 408.9L318.0 408.7L321.5 406.5L326.1 401.6L327.6 399.1L327.4 396.6L325.6 394.6L318.0 389.2L311.5 382.3L308.5 380.1L304.5 379.3L294.5 380.9L291.0 380.2L289.0 377.6L286.1 369.6L283.4 366.6L276.2 361.6L268.5 355.3L265.0 353.9L254.5 351.7L252.0 349.9L250.4 347.1L250.0 343.6L250.8 339.1L252.6 335.1L255.0 332.4L259.0 330.8L266.5 330.9L269.5 330.4L272.5 328.6L280.0 322.1L283.5 320.8ZM157.5 358.5L159.5 358.2L162.0 358.6L164.0 359.6L166.1 361.6L167.5 364.1L168.2 367.1L167.8 369.1L166.5 370.9L164.0 371.8L160.5 371.5L157.5 370.2L155.2 368.1L154.0 365.6L154.0 362.5L155.1 360.1ZM633.0 366.0L636.5 365.8L639.5 366.3L641.8 367.6L642.9 369.6L642.4 372.6L640.0 376.7L637.5 379.2L634.5 380.5L632.0 380.1L630.0 378.6L628.4 376.1L627.7 373.1L627.8 370.6L628.7 368.6L630.5 367.0ZM568.0 370.6L571.5 370.9L574.0 372.0L576.0 374.0L579.0 378.9L581.0 381.1L597.1 390.6L601.0 393.9L602.7 398.6L604.0 409.1L603.3 413.6L601.1 416.6L598.0 417.9L593.5 418.4L569.5 418.2L551.0 418.8L535.5 415.5L531.4 413.6L528.8 411.1L527.8 409.1L527.3 406.6L528.5 399.1L528.2 387.6L529.1 382.6L531.1 379.1L535.0 376.5L548.0 371.1L551.5 370.7L560.0 371.3ZM1017.0 371.6L1018.5 371.6L1018.5 383.1L1009.5 382.5L1006.9 381.6L1005.1 380.1L1004.8 377.6L1007.3 374.6L1011.5 372.5ZM106.5 372.5L111.0 372.5L114.5 374.3L115.6 375.6L116.1 377.6L115.0 380.6L112.0 382.3L107.5 382.9L103.0 382.3L100.0 380.6L99.1 378.6L100.0 376.1L102.5 374.1ZM620.5 393.1L623.0 392.8L625.0 393.3L627.0 394.5L628.7 396.6L629.8 399.6L630.1 402.6L629.4 405.1L628.0 406.6L625.5 407.4L622.5 407.1L619.8 405.6L618.0 403.4L616.9 400.1L617.0 396.6L618.5 394.1ZM269.0 404.6L271.9 404.6L273.8 405.6L275.1 407.6L275.9 411.1L276.4 417.1L276.0 422.1L274.7 426.1L272.4 429.1L270.0 430.6L267.5 431.2L258.0 430.6L248.5 431.7L244.5 430.9L241.1 428.6L239.7 426.1L239.3 423.6L239.7 421.1L241.0 419.3L249.0 415.2L257.2 408.6L263.0 406.2ZM207.5 418.0L209.0 418.1L211.0 419.1L217.1 426.1L224.8 431.6L226.2 433.6L226.4 435.6L224.2 438.6L215.5 444.0L210.0 451.0L202.6 456.6L197.0 463.9L190.4 469.1L187.9 472.1L186.7 475.6L186.3 479.6L186.8 492.1L186.7 531.1L174.9 531.1L174.8 477.6L177.3 458.6L175.8 444.1L176.2 439.1L178.5 434.4L182.0 430.6L185.6 429.1L194.0 429.3L197.5 428.4L200.0 426.4L205.0 419.5ZM713.5 442.1L721.0 442.2L726.5 443.1L728.7 444.6L730.0 447.6L730.5 454.6L730.4 531.1L704.9 531.1L705.0 449.6L705.7 446.1L707.1 444.1L709.5 442.8ZM526.5 454.6L533.0 454.8L537.0 456.5L538.9 458.6L543.2 465.1L551.0 471.1L553.5 474.9L554.2 480.1L553.5 492.1L553.7 531.1L468.7 531.1L469.0 492.1L467.5 480.1L468.0 477.1L469.0 475.1L470.7 473.6L473.5 472.6L485.0 472.4L489.4 471.1L492.0 468.6L497.0 459.4L499.0 457.6L502.0 456.1L507.5 455.1L518.0 455.2Z"/>
<path fill="#99f0b2" fill-rule="evenodd" d="M14.0 28.6L63.5 28.6L63.8 80.1L62.5 94.6L63.3 97.6L64.6 99.6L67.0 101.1L70.0 101.7L72.5 101.4L74.5 100.3L80.0 92.5L82.5 90.7L88.0 88.5L89.8 86.1L90.3 80.1L90.1 28.6L108.3 28.6L108.1 67.6L109.0 79.6L108.3 84.1L106.6 87.1L104.0 89.1L93.0 92.1L91.8 93.6L89.7 99.1L87.5 101.8L80.0 106.1L74.2 111.6L65.0 115.3L62.2 117.6L60.9 120.1L60.1 123.6L60.5 131.1L63.0 136.3L65.0 138.3L67.5 139.7L70.0 139.9L73.0 138.6L82.5 130.0L85.5 128.2L88.5 128.1L97.5 131.2L104.5 131.0L108.5 129.3L112.5 124.6L115.0 123.0L138.0 117.5L142.5 117.4L146.5 118.6L149.0 120.6L153.5 125.9L156.5 127.4L159.0 127.7L161.5 127.2L164.0 126.0L166.3 124.1L168.1 121.1L168.7 118.1L166.1 105.1L166.8 93.1L166.7 28.6L236.5 28.6L236.2 79.6L237.3 91.1L236.9 95.6L235.0 99.0L227.8 104.6L222.0 112.0L214.0 118.1L209.5 126.3L207.0 129.1L203.0 130.2L193.0 129.2L191.0 129.9L189.3 131.6L188.4 134.1L188.2 137.1L190.4 148.6L190.7 159.6L191.6 169.1L187.3 182.1L185.8 184.6L183.9 186.1L181.5 186.6L179.0 185.8L177.2 184.1L176.5 182.1L176.8 178.6L179.2 172.1L179.8 168.6L179.1 151.6L178.5 148.1L177.5 145.9L175.8 144.1L173.5 142.8L170.0 141.9L162.5 141.6L157.0 143.0L154.0 145.3L149.0 151.8L145.5 153.8L141.5 154.3L134.0 153.5L132.0 153.8L130.0 155.9L127.5 163.1L125.5 164.4L122.5 164.4L119.0 163.0L116.4 160.6L111.5 152.9L109.0 151.5L106.0 151.2L99.5 152.5L94.0 155.0L91.0 157.7L86.5 164.1L84.0 166.0L80.5 166.9L76.0 166.2L73.0 164.9L70.0 162.8L62.0 153.9L52.5 150.4L49.0 147.6L42.4 138.1L41.2 134.1L40.3 126.6L38.0 123.3L33.8 121.1L27.0 119.2L20.5 118.2L13.5 117.9L13.5 28.6ZM891.5 28.6L968.6 28.6L968.9 80.1L967.6 94.6L968.3 97.6L970.0 99.9L972.5 101.3L975.5 101.7L978.0 101.4L980.0 100.2L984.5 93.2L991.5 87.6L993.3 84.1L993.8 79.6L993.2 67.6L993.3 28.6L1018.5 28.6L1018.5 86.6L1008.0 87.6L1003.5 88.9L1000.0 90.8L997.9 93.1L995.3 99.6L993.0 102.5L984.5 106.1L978.0 112.1L970.5 115.0L968.0 116.6L965.8 120.1L964.9 126.1L965.5 131.1L967.1 135.1L970.0 138.4L973.5 139.9L976.0 139.6L978.5 138.3L987.0 130.4L990.5 128.4L993.0 128.3L999.5 130.5L1003.0 131.0L1018.5 130.0L1018.5 150.5L1010.0 151.5L1000.0 154.4L996.0 157.4L990.3 165.1L987.5 166.6L984.5 166.9L981.0 166.2L977.3 164.6L974.0 161.9L967.0 154.0L958.0 150.6L954.9 148.6L950.5 143.1L947.3 138.1L946.1 134.1L945.3 126.6L943.5 123.6L939.0 121.1L927.5 118.9L923.0 116.8L920.8 114.6L916.0 107.2L908.7 101.1L903.0 93.9L894.5 88.8L892.0 86.1L891.1 83.1L890.8 79.6L891.4 68.1ZM846.5 156.6L851.5 156.6L856.0 157.9L858.2 160.1L858.2 162.6L855.4 166.6L850.5 170.2L846.0 171.7L841.5 171.5L839.2 170.1L838.0 168.1L837.6 165.1L838.2 162.1L839.2 160.1L841.0 158.4ZM444.0 167.1L447.5 167.3L449.2 168.6L449.4 171.1L448.0 173.6L434.5 186.5L431.0 187.4L428.0 186.1L426.3 183.6L425.6 179.6L426.3 175.6L428.0 172.7L430.0 171.0L433.0 169.5ZM568.0 177.5L574.0 177.6L577.0 178.5L578.7 179.6L579.6 181.1L579.7 182.6L577.7 186.6L575.0 188.5L572.0 189.2L569.0 188.9L566.5 187.5L564.7 185.1L564.2 181.6L565.2 179.1ZM783.5 179.6L785.0 179.3L786.0 179.6L787.8 182.6L788.4 188.1L788.0 190.0L787.0 191.0L785.5 191.1L783.5 190.1L781.4 187.1L781.4 182.6ZM362.5 195.6L367.5 195.4L371.0 196.6L372.9 198.6L373.2 201.6L371.3 204.6L364.5 209.6L362.3 212.1L361.2 215.1L360.0 223.2L358.5 226.5L355.5 228.6L352.0 228.7L350.1 227.1L349.3 224.1L349.5 220.1L351.3 211.1L349.8 203.1L351.1 201.1L354.5 198.6L358.8 196.6ZM793.0 196.1L798.5 196.1L803.5 197.5L805.4 199.6L805.0 202.6L802.5 205.4L798.5 207.6L794.5 208.5L791.5 208.0L790.0 205.8L789.9 202.1L791.0 197.7ZM1015.0 269.6L1018.5 269.3L1018.5 340.0L1007.0 341.3L1003.5 341.2L1000.4 340.1L997.8 337.6L995.7 333.6L994.3 328.6L993.3 318.1L993.2 300.6L993.8 293.1L995.1 288.6L997.0 285.6L1005.4 280.1L1010.5 272.1L1012.5 270.5ZM107.0 271.0L110.0 271.8L111.1 273.1L111.8 275.1L110.9 286.1L113.3 297.1L113.2 307.6L113.9 311.6L116.3 315.1L122.5 319.1L124.7 321.1L126.2 324.1L126.4 328.1L125.7 331.1L124.2 334.1L122.3 336.1L120.0 337.6L115.5 339.0L103.0 341.5L100.0 341.6L96.5 340.7L93.5 338.4L91.3 335.1L89.5 330.1L88.4 321.1L88.8 295.6L89.8 290.1L91.5 286.6L99.5 279.6L104.5 272.4ZM749.5 308.5L752.0 308.6L754.5 309.5L760.0 313.6L766.9 321.1L767.8 323.6L767.0 325.1L764.5 326.4L749.0 330.7L746.0 330.8L744.0 329.7L742.9 328.1L742.4 325.1L743.2 316.1L745.5 311.1L747.5 309.3ZM828.5 320.6L834.0 321.1L838.3 323.1L844.5 330.2L851.6 336.1L854.5 340.1L856.5 345.1L856.3 349.1L853.5 352.8L848.5 356.6L845.0 357.9L842.5 357.3L841.9 355.6L841.9 349.6L839.8 345.1L836.3 341.6L826.5 334.5L823.0 330.5L821.9 327.1L822.6 323.6L825.0 321.4ZM287.0 327.1L289.5 326.7L292.5 327.1L297.1 329.6L303.5 338.6L312.1 345.1L317.5 352.1L324.6 358.6L330.5 365.8L340.0 373.1L345.0 378.9L348.0 383.6L354.1 400.1L354.7 403.1L354.5 405.6L352.8 409.1L344.0 421.5L340.0 425.8L336.5 428.1L327.5 430.5L302.5 434.2L297.5 433.5L295.5 432.1L294.2 430.1L293.3 426.6L293.5 422.6L294.9 419.1L297.0 416.7L299.5 415.4L302.0 415.1L313.5 418.2L316.5 418.1L319.0 417.3L322.0 414.9L328.5 407.0L336.6 400.6L337.6 399.1L337.9 397.1L337.0 394.6L334.9 392.1L324.0 384.1L314.7 373.6L306.0 366.6L301.0 359.1L298.5 356.6L296.5 355.5L294.0 355.1L286.5 356.0L284.0 355.8L281.5 354.8L279.3 352.6L277.7 349.6L276.6 345.6L276.3 342.1L276.9 339.1L278.6 335.1L281.5 330.9L284.0 328.6ZM548.5 378.1L561.5 378.0L566.2 379.1L567.2 380.6L567.3 382.6L566.3 386.1L564.4 389.6L562.0 392.0L558.5 393.2L549.0 393.3L540.0 395.1L537.5 394.7L535.5 393.6L533.8 391.6L532.9 388.6L533.0 385.6L534.5 382.8L536.4 381.1L539.0 380.0Z"/>
<path fill="#cdffcd" fill-rule="evenodd" d="M14.0 28.6L28.8 28.6L29.0 67.6L28.1 78.6L28.4 82.6L30.3 86.6L38.2 93.1L48.3 107.1L49.3 110.1L49.3 113.1L48.5 115.2L46.5 116.6L39.0 117.0L22.0 115.3L13.5 115.0L13.5 28.6ZM99.5 28.6L104.2 28.6L104.4 55.6L103.5 67.1L105.9 80.1L104.7 83.6L102.0 85.1L100.5 85.0L99.0 84.0L98.0 82.3L97.6 80.1L97.9 76.6L99.9 67.6L99.0 55.1ZM894.5 28.6L933.8 28.6L934.0 67.1L933.2 78.6L933.6 83.1L935.6 87.1L941.5 91.3L943.8 93.6L948.5 100.8L953.4 107.1L954.5 109.6L954.8 112.1L954.2 114.6L953.0 116.1L949.5 116.9L932.0 116.7L928.5 116.3L925.5 115.3L922.5 112.9L917.0 105.1L909.6 99.1L904.3 92.1L897.0 87.4L894.7 85.1L893.7 82.6L893.4 79.6L894.5 68.1ZM139.5 120.1L142.5 120.4L145.3 121.6L147.3 123.6L151.2 129.6L153.0 130.9L155.5 131.7L161.5 131.4L172.0 126.6L175.0 126.5L176.5 127.6L177.5 129.5L177.9 132.1L177.6 134.1L176.1 136.1L173.5 137.2L160.5 138.0L155.0 139.3L151.7 141.6L147.9 147.1L146.0 149.0L143.5 149.9L140.5 149.6L136.7 147.1L131.5 140.1L121.7 131.6L119.9 128.6L120.5 126.5L123.1 124.6L134.1 121.1ZM89.5 138.6L96.0 138.8L101.0 139.8L103.5 141.6L103.7 143.6L102.8 145.1L100.5 147.1L90.0 153.2L84.5 160.4L82.5 162.1L79.0 162.9L75.0 161.6L72.9 159.6L71.6 157.1L71.4 154.6L72.3 152.1L83.5 140.7L86.0 139.3ZM993.5 138.6L999.5 138.7L1005.0 139.9L1007.5 141.6L1008.0 144.1L1006.7 146.1L1004.8 147.6L994.8 153.1L989.5 160.2L987.5 162.0L984.0 162.9L980.5 162.0L978.2 160.1L976.7 157.6L976.4 154.6L977.2 152.1L988.0 141.0L990.5 139.4ZM846.0 160.0L849.0 159.6L851.5 160.3L852.8 161.6L852.6 163.6L851.3 165.1L849.0 166.5L846.5 166.9L844.5 166.4L843.1 165.1L842.9 163.1L844.0 161.2ZM436.5 171.5L439.5 171.3L441.5 171.9L442.2 173.1L441.9 174.6L439.4 178.1L436.0 181.4L433.5 182.8L431.2 182.6L429.4 180.1L430.0 176.0L432.5 173.1ZM99.5 288.0L102.0 287.9L104.0 288.9L106.5 291.9L108.4 295.6L109.6 300.6L109.7 311.6L111.1 316.1L113.5 318.6L120.1 322.1L122.4 325.1L122.8 327.6L122.2 330.6L120.5 333.0L118.5 334.3L114.0 334.6L106.0 331.9L98.5 332.8L96.0 331.5L94.0 328.5L93.0 325.1L92.5 320.6L93.0 297.3L93.8 293.6L95.0 291.1L97.0 289.1ZM1002.5 289.6L1006.0 289.5L1013.5 293.0L1018.5 293.8L1018.5 330.6L1014.5 331.1L1006.0 333.7L1003.0 333.3L1000.4 331.1L998.5 327.1L997.5 321.6L997.8 297.1L999.5 292.1ZM830.5 326.9L832.0 327.0L832.5 328.1L831.0 328.1ZM337.0 408.1L339.5 408.3L341.2 409.6L341.7 412.1L340.7 415.1L338.8 417.6L336.0 419.5L333.0 420.2L330.5 419.6L329.5 418.5L329.0 416.6L330.2 412.6L333.0 409.6Z"/>
<path fill="#edfac2" fill-rule="evenodd" d="M14.0 28.6L22.8 28.6L23.0 85.1L23.7 88.1L25.0 90.2L33.7 96.1L35.9 98.6L37.9 102.1L39.3 106.1L39.3 108.6L38.0 110.5L35.5 111.7L29.5 112.3L13.5 111.6L13.5 28.6ZM898.0 28.6L927.9 28.6L928.2 87.6L929.0 90.1L930.1 91.6L938.0 95.5L940.0 97.3L941.8 100.1L943.4 104.1L943.8 107.1L943.0 109.2L940.5 111.0L932.0 113.5L928.5 113.3L926.0 112.3L923.7 110.1L919.5 103.4L911.4 97.6L906.4 90.1L899.1 85.6L897.0 83.1L896.2 79.1L898.1 67.6L897.5 54.6L897.6 28.6ZM137.0 125.0L139.5 124.7L141.5 125.5L142.3 127.1L141.9 128.6L140.5 129.8L138.5 130.5L136.0 130.4L134.2 129.6L133.3 128.6L133.6 127.1ZM101.0 300.0L102.5 300.6L103.6 303.6L103.0 308.2L101.5 310.5L100.5 310.0L100.0 308.8L99.3 305.1L99.7 301.6Z"/>
<path fill="#0570b0" fill-rule="evenodd" d="M114.5 28.6L136.1 28.6L136.3 80.1L135.6 92.6L136.8 97.1L141.3 102.6L142.1 104.6L140.8 106.6L130.7 112.6L126.5 114.5L123.0 115.2L118.5 114.7L115.0 112.3L112.4 107.6L109.6 99.6L110.1 96.1L113.6 88.1L114.5 82.6ZM393.5 28.6L453.1 28.6L453.3 92.6L452.5 105.1L452.9 108.6L453.8 111.1L456.3 114.1L463.0 119.1L469.5 127.5L482.0 138.4L486.5 139.8L496.0 139.9L505.0 143.1L510.0 143.8L516.5 143.0L523.4 140.6L526.0 138.4L527.2 134.6L527.2 28.6L566.2 28.6L566.5 130.6L566.0 135.6L564.7 139.1L562.0 141.4L557.5 142.6L539.0 142.3L532.5 143.3L529.5 145.6L524.0 154.3L521.0 156.5L518.0 157.3L514.0 157.1L503.5 152.9L496.5 151.6L473.5 151.0L454.5 151.3L450.0 151.7L446.5 152.8L439.1 159.1L435.5 160.9L431.0 161.4L426.8 160.1L417.4 152.1L415.7 150.1L414.9 147.1L415.4 138.1L414.6 134.1L412.5 131.2L406.5 127.3L404.2 124.6L403.0 121.1L402.4 113.6L401.6 110.1L395.4 101.6L393.4 97.1L392.8 92.1L393.4 80.6ZM602.5 28.6L614.0 28.6L614.2 67.6L613.7 79.6L614.0 84.1L615.0 87.1L616.6 89.6L623.6 95.1L626.0 98.0L627.9 102.6L629.5 109.6L629.7 113.6L628.7 121.6L629.3 132.1L628.8 136.1L627.6 138.6L625.5 140.6L623.0 141.9L619.5 142.9L613.5 143.0L608.5 141.7L605.6 139.1L604.4 135.1L604.6 99.6L602.2 81.1ZM830.5 28.6L855.1 28.6L854.6 110.1L853.1 118.6L851.0 123.9L847.5 127.9L843.0 129.9L839.0 129.5L834.5 126.7L831.5 123.1L829.9 118.6L830.7 105.1ZM905.5 111.0L908.0 111.4L910.0 113.6L910.1 116.1L908.5 118.0L906.5 117.9L904.9 116.1L904.3 112.6ZM656.5 132.0L659.5 132.1L662.5 133.7L668.4 141.1L675.0 146.5L680.6 153.1L687.4 158.6L688.5 160.6L688.8 163.1L688.2 165.6L686.5 167.9L684.5 169.1L681.5 169.7L673.0 168.7L665.0 169.4L661.5 168.7L658.3 166.6L652.5 159.5L644.5 152.3L642.4 148.6L642.4 146.6L643.0 145.2L649.4 139.6L654.0 133.3ZM380.5 138.1L385.0 137.7L388.5 138.2L391.0 139.8L392.8 142.6L394.1 147.1L394.7 153.1L393.5 168.1L394.2 171.1L395.3 173.1L397.0 174.4L399.5 175.3L411.5 175.3L413.5 176.3L415.2 178.1L416.9 182.6L417.9 189.6L417.6 193.1L416.0 195.1L413.5 196.1L410.0 196.5L389.5 196.8L386.5 195.6L378.5 189.8L372.0 187.3L364.0 186.5L349.0 188.5L346.0 187.7L344.2 186.1L343.9 184.1L345.3 181.6L356.0 172.4L361.8 168.6L363.0 167.1L363.8 163.1L363.7 149.6L364.4 146.6L365.7 144.1L367.8 142.1L370.5 140.7ZM845.5 138.6L850.0 139.3L854.7 141.6L856.9 144.1L857.0 145.6L856.5 146.6L854.0 148.1L850.0 148.7L845.0 148.4L841.7 147.1L840.0 144.6L840.5 141.6L842.5 139.5ZM14.0 141.0L20.5 142.3L26.0 146.3L31.5 153.0L37.0 164.1L40.0 167.5L44.5 169.1L54.0 168.7L58.5 169.7L72.4 178.6L74.5 181.1L75.8 184.6L75.6 209.1L74.3 213.1L71.3 216.1L68.0 217.5L64.5 218.1L61.0 218.0L57.5 217.1L53.4 214.1L47.8 206.6L46.0 205.4L44.0 205.0L38.5 205.5L33.0 207.1L30.5 208.9L29.1 211.6L29.1 214.6L30.5 217.6L38.5 223.6L45.6 231.1L59.7 243.6L61.7 246.1L62.8 249.1L62.6 263.6L65.2 278.1L64.5 285.1L61.8 289.1L54.0 294.2L49.5 300.3L45.5 302.2L39.5 302.6L26.0 301.2L13.5 300.9L13.5 256.2L20.5 255.4L30.5 252.3L33.8 249.6L35.2 245.6L34.9 243.6L33.7 241.6L32.0 240.3L30.0 239.7L26.0 239.8L18.0 241.7L13.5 242.2L13.5 141.0ZM922.5 142.6L924.5 142.2L927.0 142.6L931.5 146.0L937.1 154.1L942.2 164.6L944.9 167.6L949.0 169.1L959.0 168.7L963.5 169.8L977.3 178.6L979.5 181.1L980.7 184.6L980.7 209.1L979.4 213.1L976.3 216.1L973.0 217.5L969.5 218.1L966.0 218.0L962.5 217.1L958.2 214.1L952.5 206.5L949.0 204.9L944.0 205.2L938.5 206.8L935.9 208.6L934.4 211.6L934.4 215.1L936.0 218.1L943.6 223.6L951.1 231.6L964.7 243.6L966.7 246.1L967.8 249.1L967.4 262.6L970.1 277.1L970.1 281.1L969.5 284.8L968.4 287.1L966.7 289.1L959.0 294.1L954.5 300.4L950.5 302.2L945.5 302.5L930.0 301.5L923.5 300.5L918.8 298.6L909.0 293.3L906.6 291.1L905.7 288.6L905.9 285.1L907.5 282.3L909.5 280.6L915.2 277.6L917.5 275.1L918.5 271.1L919.2 261.1L920.5 257.6L923.0 256.0L932.0 253.8L935.9 252.1L938.7 249.6L939.9 246.6L939.5 243.2L937.5 240.6L934.0 239.0L930.0 238.7L927.5 239.5L924.8 241.6L918.5 251.1L916.5 252.9L912.0 253.4L907.5 251.6L905.5 249.6L904.1 247.1L902.5 240.6L902.7 234.6L905.0 224.6L904.7 221.6L902.5 219.1L895.1 215.1L893.2 212.1L893.2 210.1L894.0 207.6L895.5 205.3L897.5 203.7L901.5 202.6L908.5 204.0L911.5 203.7L916.6 200.6L919.7 196.6L920.0 192.6L917.4 184.6L918.1 175.6L917.5 172.1L915.0 169.1L907.5 165.1L906.1 163.1L905.8 161.1L906.4 158.6L907.6 156.6L915.0 150.9L920.0 144.4ZM818.0 156.0L822.0 155.8L825.0 157.1L826.0 158.6L826.1 160.1L824.7 163.1L823.0 164.2L821.0 164.4L819.0 163.8L817.4 162.6L816.1 160.6L815.8 158.6L816.3 157.1ZM299.5 181.1L304.5 181.0L308.7 182.6L311.0 184.7L315.4 190.6L322.0 196.4L323.5 199.1L324.3 202.6L324.2 206.6L323.3 210.1L321.0 213.5L314.1 219.1L310.0 227.7L308.0 230.3L305.0 231.5L296.5 230.9L293.0 231.9L290.0 234.6L275.0 252.8L271.0 255.4L267.5 255.3L265.6 253.6L264.5 250.6L265.1 237.6L264.5 234.6L263.4 232.6L261.5 231.0L259.0 230.1L250.0 230.3L247.0 229.7L244.0 227.8L241.5 224.4L240.2 219.6L240.2 211.6L239.0 203.6L239.7 200.1L241.0 198.1L243.0 196.4L248.5 194.4L278.5 195.1L285.0 194.3L289.3 191.6L295.0 183.4ZM449.5 183.5L453.5 183.4L456.1 185.6L457.1 190.1L456.1 195.1L454.0 198.1L451.0 199.8L446.5 200.5L442.5 199.8L440.9 198.6L440.3 197.1L441.5 192.1L445.0 186.4L447.0 184.7ZM742.0 188.1L749.0 188.0L754.5 189.4L757.4 192.1L759.0 196.6L759.5 205.1L757.9 231.6L756.8 234.1L754.5 236.6L745.0 242.6L744.0 244.6L743.6 248.1L743.8 252.1L744.9 254.1L753.5 259.5L757.3 263.6L758.4 267.1L757.5 270.6L755.0 273.6L751.6 275.6L748.0 276.2L744.5 275.5L741.8 273.6L740.2 270.6L740.8 259.6L740.5 257.8L739.6 256.6L736.5 255.4L731.5 254.9L726.5 255.0L722.5 256.0L719.4 258.1L717.7 261.1L717.3 271.6L714.3 281.6L714.3 287.1L716.5 296.1L716.3 298.1L715.4 299.6L711.5 302.1L699.0 306.6L695.3 306.1L683.7 301.6L680.1 298.6L679.4 296.6L679.5 295.1L681.5 292.6L689.5 288.8L692.5 285.6L693.3 282.6L693.4 278.6L692.5 274.6L691.0 271.9L687.5 269.3L682.0 268.0L676.5 267.9L663.5 269.1L657.0 268.7L655.0 267.9L653.5 266.6L653.1 265.1L653.4 263.6L654.9 261.6L658.1 259.1L668.0 255.0L673.5 253.7L683.0 253.9L687.5 252.9L690.5 250.6L695.5 243.2L699.5 240.9L706.5 240.3L719.5 241.9L725.0 242.0L735.0 241.1L739.5 239.6L741.1 236.6L741.0 230.1L739.4 224.1L736.5 219.2L734.5 217.5L732.5 217.3L731.1 218.6L728.7 223.6L727.0 226.0L724.5 227.5L722.1 227.1L720.1 225.1L716.1 217.6L707.8 210.6L706.4 207.6L706.0 204.1L707.5 198.6L709.1 196.6L711.5 195.1L717.5 194.1L730.0 195.4L732.5 194.1L737.7 189.6ZM214.5 189.1L218.0 189.1L220.7 190.1L222.8 192.1L224.5 195.1L225.7 200.1L226.0 209.6L227.9 217.6L227.6 221.1L226.5 223.2L224.5 225.0L222.0 226.0L219.5 226.1L215.5 224.4L211.0 219.3L209.0 217.9L206.5 217.4L204.0 218.3L201.9 220.6L200.9 224.1L203.0 233.6L202.8 237.6L201.0 240.5L198.0 241.6L195.0 241.4L192.0 239.9L185.5 232.1L181.0 229.3L175.5 228.8L162.0 230.9L157.5 230.2L154.4 228.6L152.2 225.6L152.4 222.1L154.5 219.4L162.2 213.6L163.3 211.1L163.0 208.1L161.0 205.5L158.0 204.3L147.5 204.9L143.6 204.1L140.6 201.1L139.3 196.6L139.7 193.1L142.5 190.8L148.5 189.5L155.5 189.6L160.0 190.6L170.0 194.7L186.0 197.4L188.9 199.1L193.5 203.5L197.0 204.2L199.6 203.1L201.7 200.6L202.7 197.6L203.3 192.1L203.9 191.1L206.0 190.3ZM649.0 203.1L654.0 203.7L662.3 207.1L665.2 209.1L670.4 214.1L676.5 218.3L679.0 220.8L680.4 223.6L680.6 226.1L679.7 228.1L678.0 229.4L675.0 230.3L672.0 230.3L669.5 229.7L667.3 227.6L664.4 220.6L662.8 219.1L660.5 218.1L652.5 217.6L646.0 219.0L643.9 220.6L639.5 226.9L636.0 230.6L627.5 238.2L619.2 244.1L617.9 247.1L618.3 255.6L617.6 258.6L615.3 261.1L610.5 262.9L596.5 264.5L552.0 264.0L538.5 264.9L533.0 263.6L530.8 262.1L529.6 260.6L529.4 258.1L530.8 255.6L541.3 248.1L547.5 245.7L563.0 242.1L565.8 240.6L566.7 239.1L567.3 236.6L566.6 226.1L566.9 222.6L568.2 219.6L571.0 217.4L574.0 216.6L577.5 216.6L588.0 219.2L592.0 219.5L595.0 218.7L602.9 214.6L610.0 213.5L616.5 214.0L626.0 216.6L633.0 216.0L637.5 214.8L640.0 213.4L645.5 205.3L647.0 203.9ZM372.0 218.6L374.0 218.8L374.6 221.1L374.0 223.6L372.0 225.1L370.5 224.1L370.0 222.1L370.5 220.1ZM425.5 231.6L432.0 231.6L436.9 232.6L439.4 234.6L439.7 237.6L438.2 240.6L431.0 246.4L425.5 253.2L423.0 254.5L420.5 254.5L418.0 253.0L416.0 249.6L414.1 242.6L414.2 238.1L415.4 235.6L417.7 233.6L421.0 232.3ZM394.5 245.1L399.0 245.6L400.7 246.6L402.0 248.3L402.7 250.6L402.5 252.6L401.6 254.6L400.0 255.9L397.0 256.7L394.0 256.4L391.5 255.1L389.9 253.1L389.3 250.6L390.0 247.9L391.7 246.1ZM243.5 266.0L248.5 266.3L252.3 268.1L253.7 271.1L253.2 273.1L252.1 274.6L249.5 276.3L246.0 277.0L242.8 276.6L240.5 275.1L239.1 272.1L239.3 269.1L240.7 267.1ZM479.5 269.6L484.5 270.1L488.5 272.1L499.6 281.1L506.1 289.1L509.0 290.9L514.5 293.1L516.6 295.6L516.5 299.6L514.5 303.1L505.5 308.6L499.0 316.2L494.5 318.8L490.5 319.2L487.0 318.1L484.5 316.0L480.1 309.6L477.5 307.2L474.0 305.7L462.5 302.8L456.1 300.6L452.7 298.1L450.9 294.6L450.0 288.6L450.1 280.6L451.1 275.6L453.0 272.8L455.0 271.6L458.5 270.8L470.5 270.5ZM280.0 283.6L283.5 283.2L287.2 284.1L289.9 286.1L291.6 289.1L292.0 293.6L291.0 301.3L289.8 304.1L287.5 305.9L285.0 306.0L282.5 304.3L276.3 291.1L275.8 288.6L276.1 286.6L277.5 284.9ZM220.5 293.6L223.0 293.4L225.4 294.1L227.0 295.4L228.2 297.6L229.2 301.1L229.6 305.1L229.1 308.1L227.7 310.6L223.5 313.6L217.5 315.0L209.5 314.9L204.5 313.1L203.2 311.6L202.8 310.1L204.2 306.6L211.5 300.6L216.5 295.6ZM308.5 304.1L313.0 304.5L314.6 305.6L315.8 307.6L316.1 309.6L315.6 311.6L314.5 313.3L312.5 314.6L310.0 315.1L307.0 314.6L304.4 313.1L302.5 310.6L302.3 308.6L303.4 306.6L305.5 305.1ZM544.0 317.1L546.5 317.0L548.5 317.8L550.0 319.6L550.7 321.6L550.7 324.6L550.0 327.1L548.5 328.9L546.5 329.7L544.5 329.8L542.5 329.0L541.0 327.5L540.0 325.1L539.8 322.1L540.5 319.7L542.0 318.0ZM443.5 317.6L445.5 317.7L447.5 319.1L452.6 328.6L455.0 330.8L458.0 332.3L462.5 333.3L467.5 333.6L472.0 333.2L481.5 331.2L485.5 331.8L488.5 334.5L491.5 342.0L493.5 343.8L495.5 343.7L497.5 342.7L506.0 333.6L508.5 332.1L511.0 331.7L513.5 332.6L515.5 334.2L521.8 342.1L527.4 350.1L531.5 353.1L535.0 353.7L538.0 352.8L543.5 345.8L547.0 343.9L549.5 343.7L552.0 344.4L553.5 345.6L554.6 348.1L554.7 352.1L553.2 355.1L550.8 356.6L543.0 359.4L535.0 366.1L530.0 367.6L520.5 367.5L517.5 368.3L516.4 369.6L516.3 371.6L518.9 383.1L518.6 385.6L517.5 387.6L514.0 389.6L504.5 390.7L500.0 392.0L495.9 394.6L492.3 398.6L491.1 401.1L490.4 404.1L490.5 407.6L491.3 410.6L494.0 415.1L503.0 424.6L504.6 428.1L504.7 432.1L503.4 436.1L500.8 440.6L491.0 451.6L486.5 461.9L484.5 464.0L482.0 465.1L477.5 465.5L472.0 464.6L468.5 463.1L467.1 461.1L467.0 459.1L468.4 456.6L475.9 450.6L478.2 448.1L479.4 445.6L479.7 442.6L478.2 428.1L477.4 424.6L474.9 420.6L466.7 412.1L465.3 409.1L465.0 406.1L466.4 400.1L469.0 395.4L475.5 389.8L481.5 383.7L488.3 379.1L490.0 377.2L490.4 375.6L490.1 373.6L487.0 369.2L485.0 367.9L482.5 367.5L472.0 370.8L461.5 371.1L457.5 371.8L454.5 373.3L449.0 377.9L442.5 382.1L441.1 384.6L441.6 387.6L443.5 390.1L449.5 395.6L451.6 400.1L451.7 402.6L451.0 404.8L449.5 406.3L447.5 407.0L442.5 406.2L435.5 402.9L432.1 400.1L426.5 393.1L423.0 390.9L417.0 389.7L403.5 390.6L396.5 390.0L391.0 387.8L389.3 386.1L388.4 384.1L388.1 380.1L389.7 369.1L389.0 353.1L389.9 348.6L391.5 345.8L393.5 344.1L396.5 343.0L406.5 342.9L410.5 341.9L413.3 339.6L418.5 332.7L429.7 323.1L435.3 320.1ZM603.0 328.1L606.0 328.6L609.5 330.5L613.9 334.6L617.1 338.6L618.3 341.1L618.7 343.6L618.2 346.1L616.5 348.7L613.0 351.0L608.5 351.3L605.5 350.0L600.0 345.5L597.0 344.8L594.0 346.2L588.5 351.8L586.0 353.4L582.0 354.0L579.1 352.6L577.5 349.5L576.5 343.6L576.9 340.1L578.7 337.1L583.5 334.2L592.5 331.6L600.0 328.6ZM651.5 328.1L655.0 327.6L658.6 328.6L662.0 331.1L665.8 335.6L667.6 339.1L668.2 342.6L667.7 346.6L666.0 349.8L663.5 351.5L660.0 352.4L640.5 353.0L635.5 352.3L631.6 350.1L628.8 346.6L627.6 343.1L628.0 340.1L629.9 337.1L632.2 335.1L635.5 333.4ZM187.5 329.6L190.5 329.5L193.5 330.2L199.5 334.2L204.1 339.1L204.8 341.1L204.7 343.6L203.0 347.2L199.0 350.1L187.5 353.7L182.5 354.2L179.5 352.6L177.0 348.5L176.1 343.6L176.7 337.6L177.8 334.1L179.5 332.1L182.5 330.6ZM133.5 342.5L135.5 342.4L137.0 343.8L140.5 357.1L140.8 360.1L140.3 363.1L139.0 365.6L137.5 366.9L135.5 367.5L133.0 367.5L120.6 364.6L113.0 363.7L108.5 363.9L97.0 365.7L94.5 365.0L92.6 363.1L92.2 359.6L93.0 358.1L94.5 357.0L97.5 356.2L105.0 355.9L108.5 355.2L111.5 353.7L119.8 347.6ZM738.0 352.1L743.0 351.7L747.5 352.6L761.5 358.7L769.0 363.1L773.0 364.2L778.5 363.4L785.0 358.9L788.5 357.5L793.0 357.0L797.5 357.8L807.0 363.1L816.2 365.1L818.5 366.1L820.0 368.6L821.4 377.6L822.5 379.1L823.5 379.4L825.5 378.7L830.5 375.1L834.0 373.3L838.5 372.2L844.0 371.9L850.5 373.1L859.0 377.7L864.0 379.6L870.0 380.6L875.0 380.1L878.5 378.5L881.8 375.6L888.0 368.1L893.1 360.6L895.6 359.1L899.5 358.3L907.0 358.0L920.0 358.6L930.5 355.4L935.5 354.8L939.5 355.3L947.5 357.7L950.5 358.0L953.5 357.3L958.5 354.7L960.5 354.4L962.5 355.3L964.0 357.0L965.1 359.6L965.4 362.6L964.9 365.1L963.5 367.2L957.6 372.1L951.6 379.1L944.0 384.8L930.5 401.0L926.0 403.8L920.5 404.7L905.0 405.6L893.5 404.0L890.5 404.1L887.0 405.7L880.0 412.8L877.5 414.1L875.0 414.6L871.0 413.9L862.5 409.1L857.5 407.6L836.0 406.8L833.0 407.3L831.0 408.6L830.3 411.6L831.7 415.1L834.0 417.1L841.1 421.1L842.7 423.1L843.2 425.1L842.8 427.1L841.4 429.1L834.6 433.1L832.5 435.0L831.2 437.1L830.5 440.1L831.3 454.6L831.1 531.1L816.7 531.1L816.6 441.6L815.7 437.1L814.2 434.1L806.5 427.3L804.6 424.6L804.5 421.6L806.4 416.6L806.1 414.1L803.4 411.1L797.5 408.1L774.0 401.9L762.5 397.3L751.5 395.3L748.1 393.6L746.3 390.1L746.6 385.1L748.7 380.6L753.7 374.6L754.2 372.1L752.6 369.6L750.0 368.0L739.0 366.2L736.5 365.1L734.5 363.4L732.5 359.6L732.3 355.6L734.0 353.4ZM225.5 354.1L229.0 353.9L232.5 355.0L240.0 362.3L243.5 364.3L247.5 364.9L255.5 364.3L259.0 364.6L263.5 366.0L268.5 369.0L273.0 373.0L275.1 377.1L275.2 382.6L273.1 387.6L269.0 391.4L260.5 395.8L256.0 396.9L246.0 397.5L241.0 398.5L235.0 401.0L225.0 406.4L221.5 407.5L218.0 407.0L202.8 399.6L194.5 397.2L182.5 397.2L172.0 395.3L169.0 395.3L166.0 397.0L161.5 402.1L159.0 404.1L156.0 405.4L152.0 406.0L148.0 405.7L144.0 404.4L140.7 402.1L138.3 399.1L137.0 394.6L137.4 389.1L139.4 384.6L142.5 381.8L145.0 381.1L148.5 381.0L163.0 384.3L167.0 384.1L171.5 381.5L181.0 372.7L184.0 370.6L187.0 369.7L196.5 368.7L202.0 367.1L210.8 362.6L222.0 355.5ZM54.0 354.5L56.0 354.5L57.3 355.1L59.8 358.6L60.5 363.1L59.0 366.7L52.6 372.1L46.6 379.1L39.0 384.8L24.5 401.9L20.0 404.1L13.5 404.6L13.5 358.5L17.5 358.1L25.5 355.5L30.0 354.8L34.0 355.1L42.5 357.7L46.0 358.0L48.5 357.3ZM1005.5 355.6L1018.5 355.9L1018.5 363.6L1013.5 363.9L1003.5 365.8L1001.0 365.6L999.0 364.7L997.6 363.1L997.1 361.6L997.7 358.6L1000.5 356.5ZM593.0 366.1L595.0 365.9L597.5 366.6L601.5 369.4L603.8 373.1L603.8 374.6L603.0 376.2L600.5 377.6L597.0 377.9L593.5 376.9L590.5 374.9L589.0 372.5L589.0 369.6L590.5 367.4ZM67.5 380.1L70.0 379.9L72.5 381.0L75.0 383.1L76.8 385.6L77.9 388.6L78.0 391.1L77.0 393.6L75.5 394.9L72.5 395.4L69.5 394.5L66.5 392.5L64.1 389.6L63.2 386.6L63.6 384.1L65.1 381.6ZM972.5 380.1L975.0 379.9L977.5 381.0L980.0 383.1L981.8 385.6L982.9 388.6L982.9 391.1L982.0 393.5L980.5 394.8L977.5 395.4L974.5 394.6L971.5 392.6L969.1 389.6L968.2 386.6L968.5 384.1L970.1 381.6ZM668.0 380.6L672.0 380.9L674.5 383.1L676.4 387.6L677.0 393.1L676.5 398.4L675.0 402.0L673.0 404.1L667.9 407.6L667.5 409.6L668.0 412.6L670.4 417.1L676.8 421.6L679.0 423.9L680.7 427.6L681.4 432.1L681.1 434.6L679.9 437.1L670.1 445.6L668.3 448.6L667.4 452.1L667.8 467.1L667.7 531.1L640.8 531.1L640.9 444.1L640.5 429.1L641.4 426.1L643.1 423.1L651.0 413.6L655.5 409.9L664.1 405.1L664.5 402.1L663.3 398.1L661.2 394.6L655.7 388.6L655.2 386.1L656.2 384.6L658.0 383.5ZM124.0 416.1L129.0 415.9L134.0 417.1L137.2 419.1L138.6 422.1L138.2 424.1L136.4 426.1L128.5 430.1L125.5 432.6L123.7 436.1L123.1 441.1L123.3 459.1L124.2 464.1L127.0 468.1L134.5 473.3L136.0 475.6L136.6 478.1L135.7 492.1L135.9 531.1L27.7 531.1L27.6 467.1L28.0 454.1L25.5 439.1L25.9 436.1L27.2 433.6L29.0 432.1L31.5 431.3L40.5 432.4L43.5 431.9L45.5 430.5L51.7 424.1L54.5 422.5L58.0 421.4L72.0 421.1L83.0 419.4L96.5 421.1L107.0 421.1L114.0 419.9ZM985.5 419.6L989.5 419.5L1002.0 421.1L1018.5 421.1L1018.5 531.1L932.6 531.1L932.5 467.1L933.0 454.1L932.5 449.6L929.8 439.6L929.7 436.6L930.5 433.9L932.5 431.7L935.0 431.1L944.5 432.6L948.0 432.2L950.5 430.5L956.5 424.2L962.0 421.6L966.0 421.1L977.0 421.1ZM411.5 420.6L416.0 420.4L420.5 420.9L425.0 422.5L428.2 424.6L430.0 426.6L430.9 429.1L430.9 432.1L430.0 435.5L427.0 439.8L418.0 445.6L413.0 452.6L406.4 458.6L400.4 466.1L396.5 468.2L392.5 468.0L389.7 465.6L388.6 461.6L389.3 450.1L388.6 441.1L389.4 437.6L392.0 433.9L403.5 423.6L407.0 421.7Z"/>
<path fill="#05508c" fill-rule="evenodd" d="M116.5 28.6L130.8 28.6L131.0 80.6L129.9 93.6L132.6 105.1L131.9 107.6L129.5 110.4L126.5 112.3L123.0 113.2L119.5 112.8L116.4 110.6L114.3 106.6L112.9 100.6L113.0 97.6L115.6 89.6L116.5 83.1ZM377.5 141.6L381.5 141.4L384.5 142.0L386.7 143.1L388.5 144.9L389.7 147.6L390.3 150.6L389.8 166.1L390.4 170.6L391.6 174.1L393.5 176.5L396.0 177.9L399.0 178.4L408.0 178.6L412.0 180.4L413.8 183.1L414.4 186.6L413.7 190.1L412.0 192.1L409.0 193.2L405.0 193.5L391.5 191.7L387.5 190.1L378.5 185.1L374.6 182.1L373.8 180.1L373.9 175.1L373.5 172.6L368.6 165.1L367.1 161.6L366.2 156.6L366.1 152.1L366.9 148.1L369.0 145.0L372.5 142.9ZM31.0 190.5L34.5 190.5L37.5 191.8L39.1 194.1L38.9 197.1L37.3 199.1L34.5 200.7L30.0 201.6L26.5 201.4L25.6 200.6L25.2 199.1L26.1 194.6L28.0 192.0ZM935.0 190.5L939.0 190.5L942.4 192.1L943.9 194.6L943.4 197.6L940.0 200.3L930.5 203.6L929.3 205.6L927.9 212.1L926.5 215.4L923.5 217.2L920.0 216.6L918.2 215.1L917.4 213.1L917.4 211.1L918.2 209.1L921.0 206.1L927.6 202.1L931.0 193.2L932.5 191.6ZM745.0 192.5L749.0 192.4L752.5 193.8L754.8 196.6L755.9 200.6L755.7 207.6L753.2 222.6L751.5 227.1L749.5 228.5L747.5 227.7L745.5 224.8L739.2 212.6L737.5 206.6L737.6 201.6L739.1 197.1L741.5 194.1ZM715.0 202.6L716.5 202.5L717.4 203.6L717.0 205.1L716.0 205.9L714.6 205.6L714.0 204.6L714.1 203.6ZM14.0 203.3L19.5 203.5L21.9 204.1L22.8 205.6L23.0 208.1L22.2 213.1L20.5 216.4L18.0 217.8L13.5 218.4L13.5 203.3ZM609.5 219.6L613.0 220.0L615.8 222.1L617.1 225.6L616.2 228.6L613.5 230.3L606.5 231.9L604.0 233.3L598.2 242.1L588.0 253.5L584.0 254.9L582.0 254.6L580.2 253.6L578.0 249.6L575.7 239.1L575.6 232.1L577.2 228.1L579.5 226.7L583.0 226.1L596.0 227.5L599.0 227.3L601.0 226.3L605.6 221.1ZM913.0 229.6L915.0 229.5L917.2 230.6L918.8 232.6L919.4 235.1L918.9 237.6L917.0 240.6L915.0 242.4L913.0 243.0L911.5 242.8L910.0 241.6L908.9 239.6L908.5 237.1L908.8 234.6L909.9 232.1L911.5 230.4ZM44.5 242.6L47.0 242.7L49.5 244.2L51.7 246.6L53.2 249.6L53.7 252.6L53.5 256.0L50.8 262.6L47.0 266.1L41.5 267.9L33.5 268.2L28.0 266.5L26.2 264.1L27.1 261.1L29.2 259.1L37.5 253.6L39.8 250.6L42.7 244.1ZM949.5 242.5L952.0 242.8L954.5 244.4L956.9 247.1L958.3 250.1L958.7 253.1L958.3 256.6L957.0 260.5L955.1 263.6L951.5 266.4L946.0 267.8L935.0 268.0L932.5 267.6L930.6 266.6L929.5 264.1L930.6 261.6L942.4 253.6L944.6 250.6L947.5 244.1ZM462.5 277.1L466.0 277.1L470.7 278.1L474.2 279.6L476.0 281.3L477.5 285.2L479.3 293.6L479.0 297.6L477.5 299.7L473.5 300.8L467.5 299.8L462.3 297.1L458.4 293.1L456.3 288.1L456.4 282.6L458.5 278.9ZM30.0 281.5L32.5 281.3L34.5 281.9L38.0 284.9L39.3 287.6L39.8 290.1L39.5 292.1L38.4 293.6L35.5 294.7L30.5 294.7L26.5 293.7L24.5 292.1L24.1 289.6L25.4 285.6L27.5 282.8ZM935.0 281.5L937.0 281.3L939.5 281.9L943.0 284.9L944.3 287.6L944.7 290.1L944.4 292.1L943.1 293.6L940.4 294.6L935.5 294.9L931.5 294.3L929.4 293.1L928.9 290.6L930.3 286.1L932.5 282.9ZM472.5 341.6L475.0 341.5L477.0 342.1L478.8 344.6L479.6 354.6L479.0 357.6L477.7 360.1L474.0 363.6L469.0 365.6L461.5 365.7L455.9 364.1L454.6 362.6L454.2 361.1L455.3 357.6L463.2 350.6L468.0 343.6L470.0 342.3ZM509.5 342.0L512.5 342.4L515.5 345.1L517.4 349.1L517.1 352.6L515.5 354.2L509.5 356.3L507.0 357.9L505.3 360.1L502.6 365.6L501.0 367.3L499.0 368.0L496.5 367.3L494.0 365.5L492.0 362.8L491.3 360.6L491.9 358.1L494.1 355.6L501.0 351.1L506.5 343.9ZM123.0 353.6L125.0 353.3L125.5 354.6L124.5 355.5L123.0 355.5L122.3 354.6ZM29.5 359.5L33.5 359.6L37.6 361.6L40.3 365.1L40.4 366.6L39.7 368.1L37.5 369.4L34.0 369.8L30.0 369.1L27.0 367.5L25.4 365.6L25.2 363.1L26.5 361.1ZM934.5 359.5L939.0 359.7L943.1 362.1L945.2 365.1L945.4 366.6L944.6 368.1L942.0 369.5L938.5 369.7L934.5 368.9L931.5 367.2L930.1 365.1L930.3 362.6L932.0 360.6ZM221.5 365.1L225.0 365.0L228.0 365.6L235.5 369.9L239.5 371.1L244.5 371.3L255.5 370.3L260.5 371.1L264.5 373.2L267.4 376.1L268.8 379.1L268.5 382.6L267.3 384.6L265.2 386.6L257.1 391.1L252.5 392.5L238.5 394.8L226.0 400.5L221.5 401.6L216.0 400.7L197.5 393.5L193.5 393.1L184.5 393.4L180.5 392.8L177.0 391.2L174.9 389.1L174.4 386.6L175.9 383.1L180.0 378.7L184.5 375.6L188.5 374.0L200.0 371.3L213.5 366.7ZM807.0 370.5L811.0 370.7L812.7 371.6L814.0 373.1L814.9 376.6L815.2 385.1L819.7 395.1L820.2 399.6L819.5 404.1L818.0 407.1L816.0 408.4L811.5 408.5L805.5 406.4L800.4 403.6L792.0 397.3L788.5 395.5L784.5 394.7L777.0 395.0L773.5 394.6L757.2 390.1L755.2 389.1L753.9 387.6L753.8 385.6L755.1 383.6L762.0 378.8L767.0 372.7L769.5 371.2L774.0 370.7L778.0 371.7L780.1 373.1L784.0 378.1L786.3 380.1L790.0 381.8L794.0 382.3L797.0 381.9L799.5 380.6L801.4 378.1L804.0 372.6ZM839.5 375.1L843.5 374.8L847.5 375.4L861.5 381.7L868.0 383.6L873.5 384.4L877.0 384.3L880.0 383.5L887.5 378.9L890.5 378.0L893.0 378.1L899.5 380.1L903.5 380.7L917.5 379.7L922.0 379.9L925.5 380.8L928.7 382.6L930.6 385.1L930.8 387.6L929.8 390.1L927.6 392.6L925.0 394.3L922.0 395.3L891.5 394.0L886.5 394.8L882.0 397.6L876.0 405.0L873.5 406.1L871.0 405.8L864.5 403.1L859.5 401.9L838.5 401.7L833.5 400.3L829.8 397.6L827.1 393.6L826.3 389.6L827.3 385.1L830.6 380.1L834.5 376.9ZM14.0 379.7L19.0 380.3L22.5 381.7L25.1 384.1L25.9 387.1L24.5 390.6L21.5 393.5L18.0 395.1L13.5 395.7L13.5 379.7ZM57.5 430.5L59.5 430.2L61.3 431.1L65.5 440.1L68.0 442.3L71.0 443.3L73.0 442.7L74.5 441.2L77.5 433.6L79.0 431.6L82.5 430.2L86.0 430.8L88.4 433.1L92.3 441.1L98.6 447.1L100.5 450.1L101.4 454.6L100.6 465.1L101.4 479.1L101.3 531.1L35.0 531.1L34.9 454.1L35.5 446.6L36.5 444.2L38.0 442.6L48.0 438.2L55.5 431.7ZM962.5 430.5L964.5 430.2L966.0 430.9L970.5 440.1L973.0 442.4L976.0 443.3L978.0 442.6L979.5 441.1L982.4 433.6L983.9 431.6L987.0 430.3L990.5 430.7L993.0 432.7L997.1 441.1L1004.0 447.1L1006.0 450.1L1006.8 455.1L1005.9 467.1L1006.1 531.1L940.0 531.1L939.9 454.6L940.5 446.8L941.5 444.3L943.0 442.7L953.0 438.1L960.0 432.0Z"/>
<path fill="#0a1f96" fill-rule="evenodd" d="M119.5 28.6L126.7 28.6L127.0 80.6L124.7 94.1L125.4 97.1L127.9 103.1L128.2 105.6L127.6 107.6L126.4 109.1L124.5 110.3L122.5 110.7L120.0 110.2L118.1 108.6L116.9 106.1L116.2 102.6L116.5 99.5L118.6 93.1L119.1 89.1ZM376.5 144.6L380.0 144.5L383.0 145.4L385.1 147.1L386.3 149.6L386.8 153.6L385.9 166.6L387.0 174.6L388.7 181.1L388.5 181.8L385.0 181.2L381.9 179.1L380.5 176.7L377.8 169.6L371.5 162.6L369.4 158.6L368.6 153.6L369.6 149.1L372.3 146.1ZM398.5 182.1L404.5 181.7L408.0 182.5L410.0 184.6L410.0 187.6L408.7 189.1L406.5 190.0L400.0 189.7L393.8 187.1L391.6 185.1L390.4 183.1L391.0 182.6ZM746.0 197.0L748.5 196.8L750.3 197.6L751.8 199.6L752.5 202.1L752.3 206.1L751.1 210.6L749.5 213.8L748.0 214.8L746.5 214.3L744.5 212.2L742.9 209.1L742.1 205.6L742.9 200.1L744.2 198.1ZM586.5 232.1L589.0 232.4L591.0 233.3L592.3 234.6L592.9 236.6L592.1 239.1L590.5 241.1L588.4 242.6L586.0 243.2L584.5 242.9L583.0 241.6L581.9 239.6L581.5 237.1L581.9 235.1L583.0 233.4ZM215.0 371.1L219.5 371.2L223.0 372.1L231.5 377.4L234.5 378.5L237.5 378.6L246.0 377.5L251.0 377.9L253.0 378.8L254.2 380.1L254.5 383.1L252.5 386.1L249.2 388.1L235.5 390.6L225.5 395.4L220.5 396.6L213.0 395.3L197.5 389.5L194.0 389.1L185.0 389.4L182.3 388.6L180.8 387.1L180.5 385.1L181.5 383.1L186.2 379.6L207.0 372.7ZM840.0 378.1L843.5 377.9L847.5 378.7L866.1 387.1L870.4 390.1L871.1 391.6L870.9 393.1L869.0 395.1L864.5 396.3L842.5 397.9L839.0 397.7L836.0 396.7L833.5 394.8L831.8 392.6L830.9 389.6L831.0 386.6L832.2 383.6L834.1 381.1L836.9 379.1ZM805.5 390.5L807.5 390.5L809.5 391.1L813.0 394.6L814.0 397.0L814.1 399.1L813.5 400.8L812.1 402.1L810.0 402.6L807.0 401.9L804.1 400.1L802.1 397.6L801.3 395.1L801.7 393.1L803.0 391.6ZM53.0 443.0L56.0 443.0L59.0 444.8L62.7 449.6L64.1 453.6L62.8 467.1L63.1 531.1L41.1 531.1L41.3 467.1L40.6 452.6L41.7 449.1L44.0 446.7L48.0 444.6ZM958.0 443.0L961.0 443.0L964.0 444.9L967.6 449.6L969.1 453.6L967.8 467.1L968.1 531.1L946.0 531.1L946.3 467.1L945.5 452.6L946.7 449.1L949.0 446.6L953.0 444.6Z"/>
<path fill="#2c0246" fill-rule="evenodd" d="M377.0 148.1L379.0 148.2L380.7 149.1L381.9 150.6L382.5 152.6L381.5 158.1L380.0 160.3L378.5 161.0L376.5 160.7L374.0 159.1L372.7 157.1L372.0 154.6L372.1 152.1L373.1 150.1L375.0 148.6ZM210.0 376.6L216.5 376.5L219.5 377.5L222.0 379.0L224.4 381.6L225.6 384.1L225.7 386.1L224.8 388.1L221.0 390.7L215.5 391.2L209.0 389.6L202.9 386.1L200.7 383.6L201.1 381.1L204.5 378.5ZM841.5 381.6L845.5 382.0L850.0 384.1L854.2 387.6L854.5 389.6L851.0 391.6L844.5 393.4L840.5 393.6L837.7 392.6L835.3 389.6L835.3 386.1L837.5 383.1Z"/>
<path fill="#fff" d="M63.5 500.8H968.5V506.1H63.5ZM63.5 495.8H968.5V501.1H63.5ZM63.5 490.8H968.5V496.1H63.5ZM63.5 485.7H968.5V491.1H63.5ZM63.5 480.7H968.5V486.0H63.5ZM63.5 475.7H968.5V481.0H63.5ZM63.5 470.7H968.5V476.0H63.5ZM63.5 465.6H490.9V471.0H63.5ZM531.1 465.6H968.5V471.0H531.1ZM63.5 460.6H495.9V465.9H63.5ZM526.1 460.6H968.5V465.9H526.1ZM63.5 455.6H968.5V460.9H63.5ZM63.5 450.5H78.6V455.9H63.5ZM88.6 450.5H893.1V455.9H88.6ZM933.3 450.5H968.5V455.9H933.3ZM108.8 445.5H239.5V450.8H108.8ZM259.6 445.5H495.9V450.8H259.6ZM581.4 445.5H621.6V450.8H581.4ZM636.7 445.5H646.7V450.8H636.7ZM737.2 445.5H878.0V450.8H737.2ZM133.9 440.5H219.4V445.8H133.9ZM259.6 440.5H289.8V445.8H259.6ZM299.8 440.5H335.0V445.8H299.8ZM340.0 440.5H415.4V445.8H340.0ZM435.6 440.5H480.8V445.8H435.6ZM792.5 440.5H873.0V445.8H792.5ZM299.8 435.5H324.9V440.8H299.8ZM812.6 435.5H878.0V440.8H812.6ZM862.9 430.4H878.0V435.8H862.9ZM420.5 164.0H430.5V169.3H420.5ZM420.5 158.9H435.6V164.3H420.5ZM797.6 158.9H812.6V164.3H797.6ZM420.5 153.9H435.6V159.2H420.5ZM797.6 153.9H827.7V159.2H797.6ZM405.4 148.9H435.6V154.2H405.4ZM727.2 148.9H832.8V154.2H727.2ZM405.4 143.8H440.6V149.2H405.4ZM727.2 143.8H832.8V149.2H727.2ZM405.4 138.8H445.6V144.2H405.4ZM450.6 138.8H465.7V144.2H450.6ZM727.2 138.8H827.7V144.2H727.2ZM405.4 133.8H465.7V139.1H405.4ZM536.1 133.8H561.2V139.1H536.1ZM727.2 133.8H827.7V139.1H727.2ZM108.8 128.8H118.8V134.1H108.8ZM405.4 128.8H470.8V134.1H405.4ZM475.8 128.8H495.9V134.1H475.8ZM526.1 128.8H576.3V134.1H526.1ZM727.2 128.8H817.7V134.1H727.2ZM852.9 128.8H867.9V134.1H852.9ZM108.8 123.7H123.8V129.1H108.8ZM390.3 123.7H576.3V129.1H390.3ZM727.2 123.7H822.7V129.1H727.2ZM842.8 123.7H867.9V129.1H842.8ZM108.8 118.7H123.8V124.0H108.8ZM390.3 118.7H576.3V124.0H390.3ZM727.2 118.7H827.7V124.0H727.2ZM837.8 118.7H888.1V124.0H837.8ZM108.8 113.7H123.8V119.0H108.8ZM143.9 113.7H174.1V119.0H143.9ZM390.3 113.7H576.3V119.0H390.3ZM727.2 113.7H928.3V119.0H727.2ZM143.9 108.7H174.1V114.0H143.9ZM390.3 108.7H576.3V114.0H390.3ZM692.0 108.7H928.3V114.0H692.0ZM164.1 103.6H943.4V109.0H164.1ZM174.1 98.6H968.5V103.9H174.1ZM63.5 93.6H73.6V98.9H63.5ZM103.7 93.6H133.9V98.9H103.7ZM143.9 93.6H968.5V98.9H143.9ZM63.5 88.5H73.6V93.9H63.5ZM93.7 88.5H968.5V93.9H93.7ZM63.5 83.5H968.5V88.8H63.5ZM63.5 78.5H968.5V83.8H63.5ZM63.5 73.5H968.5V78.8H63.5ZM63.5 68.4H968.5V73.8H63.5ZM63.5 63.4H968.5V68.7H63.5ZM63.5 58.4H968.5V63.7H63.5ZM63.5 53.4H968.5V58.7H63.5Z"/>
<path class="ld" fill-rule="evenodd" d="M128.4 101.0L133.9 101.3L141.4 103.0L146.5 105.3L154.0 105.8L161.5 108.8L166.8 111.8L159.0 113.6L149.0 112.1L146.5 112.6L150.2 116.3L151.5 118.1L159.0 118.4L164.1 117.4L164.1 113.8L169.1 112.8L174.1 113.1L172.9 107.5L179.1 108.8L179.1 111.8L189.2 108.8L199.2 107.5L211.8 107.5L216.8 104.3L226.9 105.8L234.4 107.5L231.9 103.8L231.9 97.5L237.0 96.2L245.8 96.7L245.8 101.3L247.0 107.5L247.0 112.6L252.0 108.8L249.5 97.5L259.6 98.0L267.1 95.0L282.2 93.7L282.2 90.5L294.8 89.2L309.9 88.2L324.9 84.4L332.5 86.9L345.1 87.4L350.1 90.0L340.0 93.7L347.6 94.5L362.7 96.2L375.2 94.7L382.8 97.5L390.3 101.3L397.8 100.0L415.4 97.5L418.0 96.7L440.6 100.0L448.1 101.5L465.7 104.5L468.2 105.0L490.9 104.0L505.9 104.3L516.0 106.3L528.6 110.1L541.1 113.8L536.1 117.6L533.6 118.1L526.1 115.6L518.5 115.1L511.0 117.6L508.5 122.6L514.7 123.1L503.4 124.4L490.9 128.9L478.3 129.2L473.3 134.7L472.0 138.5L470.2 141.5L465.7 146.0L462.0 146.8L457.4 151.5L455.7 146.5L454.9 139.0L458.2 134.4L464.5 130.2L473.3 125.1L475.8 122.6L465.7 124.4L458.2 124.9L453.2 130.7L445.6 131.4L435.6 130.4L423.0 130.7L415.4 135.2L407.9 142.7L410.4 144.5L418.0 146.0L416.7 151.5L415.9 157.8L410.4 163.6L404.1 169.1L397.8 172.4L392.8 172.9L390.3 174.2L389.0 177.9L384.0 180.5L388.5 186.7L388.5 190.5L381.5 193.3L381.0 188.0L377.7 184.7L378.2 180.5L376.2 179.2L368.9 181.7L370.2 177.4L367.7 176.9L360.1 181.2L362.7 185.5L371.5 185.7L366.4 188.7L363.4 191.8L366.4 195.5L369.7 200.6L370.2 204.3L368.9 208.1L365.2 213.1L362.7 216.9L357.6 220.7L350.6 223.7L343.8 225.7L340.0 228.7L340.0 226.0L335.0 225.5L331.2 229.5L329.2 232.5L332.5 238.3L337.5 244.6L338.3 249.6L332.5 253.4L327.5 257.9L327.2 254.6L322.4 252.1L319.9 248.3L317.2 246.1L314.9 246.3L313.1 252.1L312.9 256.4L315.9 259.6L317.4 262.7L320.7 264.2L323.4 268.4L323.7 273.0L325.4 276.2L323.7 276.5L318.2 272.7L315.9 265.9L312.4 259.6L310.9 259.6L311.1 254.6L311.1 249.6L308.9 243.3L308.6 238.3L303.1 240.0L300.6 239.5L301.1 234.5L299.1 230.7L294.8 225.7L293.5 223.2L289.8 224.4L284.7 225.2L282.2 225.7L281.0 229.5L277.2 230.7L270.4 238.0L265.1 241.3L265.4 247.1L264.1 253.9L262.1 256.6L259.6 257.9L258.3 259.4L255.8 257.1L253.3 250.8L251.5 247.1L249.5 242.0L247.5 237.0L246.5 232.0L246.5 227.0L245.0 226.5L241.5 227.5L237.0 223.7L240.2 222.2L235.7 220.7L232.9 218.2L230.7 216.1L225.6 216.4L218.1 216.7L211.3 215.6L207.3 212.4L205.0 211.6L201.0 213.1L195.5 210.6L191.7 207.3L189.2 203.8L185.4 204.3L184.2 205.3L185.9 208.6L189.2 212.6L189.7 215.1L191.0 216.9L192.2 214.1L193.2 216.9L193.0 218.7L196.7 219.2L200.5 218.9L204.3 214.4L205.3 213.6L205.5 218.2L210.6 220.4L213.8 223.4L210.6 228.5L208.6 232.0L206.8 234.5L202.3 236.0L194.7 239.5L186.7 244.1L176.6 247.6L172.9 247.8L171.1 242.5L170.3 238.3L165.8 230.7L161.8 225.7L160.3 220.7L156.5 215.6L151.5 209.4L151.2 205.6L149.7 209.4L147.7 208.9L145.5 204.6L145.2 204.3L149.0 211.9L152.7 219.4L156.5 227.0L157.3 232.5L161.5 240.8L171.6 248.3L172.4 250.8L176.6 253.4L191.7 249.6L190.5 257.1L184.2 268.4L177.9 274.7L169.1 282.3L164.1 287.3L161.5 294.8L162.8 304.9L165.3 317.5L159.0 323.2L151.5 330.0L152.7 340.1L146.2 345.1L143.9 351.4L138.9 358.9L131.4 364.0L127.6 365.2L113.8 367.2L109.8 365.2L108.8 360.2L105.0 351.4L101.2 346.4L100.0 336.3L93.7 325.0L93.2 318.7L97.4 309.9L96.9 302.4L94.2 294.8L93.2 291.1L86.1 282.3L87.4 277.2L87.9 271.0L84.9 268.2L81.1 268.9L78.6 268.9L74.8 263.9L66.0 264.7L58.5 267.7L53.4 266.7L44.6 268.7L40.9 267.2L35.8 262.7L30.8 258.4L29.6 254.6L25.8 252.1L21.5 245.8L19.5 242.8L22.0 239.5L23.3 232.0L20.8 227.0L23.3 220.7L27.0 214.4L30.8 209.9L38.4 205.6L39.1 200.6L44.6 195.3L48.4 189.8L58.5 191.5L71.0 187.2L88.6 186.0L91.2 195.5L101.2 198.3L111.3 203.6L113.8 198.0L121.3 197.8L126.3 200.3L136.4 201.8L143.9 201.3L149.5 201.1L151.5 196.8L153.7 191.8L154.0 187.2L149.0 188.7L143.9 189.0L140.2 188.0L136.4 187.7L132.1 186.7L129.6 181.0L128.9 177.9L123.8 177.2L120.8 178.2L122.6 181.7L121.3 184.2L123.8 184.7L121.3 188.0L120.1 188.0L117.0 185.5L113.8 179.9L112.3 175.4L111.3 173.4L103.7 170.4L100.0 166.1L97.9 165.1L94.4 165.9L94.9 169.1L98.7 172.9L103.7 174.7L109.8 178.7L106.2 178.2L105.0 180.5L106.2 182.0L103.7 184.2L103.0 184.2L103.7 180.5L102.5 179.2L98.7 177.2L94.4 174.9L89.9 171.9L88.6 169.1L85.6 168.1L82.4 169.6L78.6 171.4L74.8 170.6L71.0 171.1L71.5 174.2L65.5 176.7L62.7 180.5L64.0 182.5L61.7 185.2L58.5 187.2L52.2 187.5L49.9 189.0L47.7 187.2L44.9 186.2L41.1 186.7L41.4 183.0L39.6 182.2L41.4 176.7L40.4 171.7L43.4 169.9L50.9 170.4L59.0 170.6L60.5 167.6L60.7 164.1L58.0 161.1L51.9 159.1L51.7 157.8L58.5 157.3L59.5 155.1L64.0 155.3L67.5 152.8L69.8 151.3L73.6 149.0L75.6 146.5L81.1 145.0L84.9 144.5L85.4 141.5L84.1 137.0L83.9 136.2L89.9 134.7L89.4 137.7L88.6 140.2L90.7 144.0L94.9 143.2L99.2 144.3L110.0 142.2L113.8 142.7L116.3 140.2L116.3 136.5L120.1 134.7L124.6 136.0L124.6 133.2L122.6 130.9L131.4 130.2L138.9 128.9L135.1 127.7L126.3 128.4L120.1 128.9L117.0 126.4L117.5 122.6L125.1 116.9L127.1 115.1L118.8 114.3L117.0 117.6L108.8 122.6L106.7 126.4L110.0 128.9L108.8 130.7L105.0 133.9L104.5 137.7L99.4 139.0L99.2 140.5L96.2 140.5L94.9 138.2L93.2 133.9L91.2 131.4L89.9 130.2L86.1 132.4L81.1 133.9L77.3 131.9L76.1 127.7L76.1 123.9L81.1 121.4L89.9 118.1L93.7 115.1L96.2 111.3L101.2 107.5L107.5 105.0L113.8 103.8L121.3 102.0ZM1033.4 101.0L1038.9 101.3L1046.4 103.0L1051.5 105.3L1059.0 105.8L1066.5 108.8L1071.8 111.8L1064.0 113.6L1054.0 112.1L1051.5 112.6L1055.2 116.3L1056.5 118.1L1064.0 118.4L1069.1 117.4L1069.1 113.8L1074.1 112.8L1079.1 113.1L1077.9 107.5L1084.1 108.8L1084.1 111.8L1094.2 108.8L1104.2 107.5L1116.8 107.5L1121.8 104.3L1131.9 105.8L1139.4 107.5L1136.9 103.8L1136.9 97.5L1142.0 96.2L1150.8 96.7L1150.8 101.3L1152.0 107.5L1152.0 112.6L1157.0 108.8L1154.5 97.5L1164.6 98.0L1172.1 95.0L1187.2 93.7L1187.2 90.5L1199.8 89.2L1214.9 88.2L1229.9 84.4L1237.5 86.9L1250.1 87.4L1255.1 90.0L1245.0 93.7L1252.6 94.5L1267.7 96.2L1280.2 94.7L1287.8 97.5L1295.3 101.3L1302.8 100.0L1320.4 97.5L1323.0 96.7L1345.6 100.0L1353.1 101.5L1370.7 104.5L1373.2 105.0L1395.9 104.0L1410.9 104.3L1421.0 106.3L1433.6 110.1L1446.1 113.8L1441.1 117.6L1438.6 118.1L1431.1 115.6L1423.5 115.1L1416.0 117.6L1413.5 122.6L1419.7 123.1L1408.4 124.4L1395.9 128.9L1383.3 129.2L1378.3 134.7L1377.0 138.5L1375.2 141.5L1370.7 146.0L1367.0 146.8L1362.4 151.5L1360.7 146.5L1359.9 139.0L1363.2 134.4L1369.5 130.2L1378.3 125.1L1380.8 122.6L1370.7 124.4L1363.2 124.9L1358.2 130.7L1350.6 131.4L1340.6 130.4L1328.0 130.7L1320.4 135.2L1312.9 142.7L1315.4 144.5L1323.0 146.0L1321.7 151.5L1320.9 157.8L1315.4 163.6L1309.1 169.1L1302.8 172.4L1297.8 172.9L1295.3 174.2L1294.0 177.9L1289.0 180.5L1293.5 186.7L1293.5 190.5L1286.5 193.3L1286.0 188.0L1282.7 184.7L1283.2 180.5L1281.2 179.2L1273.9 181.7L1275.2 177.4L1272.7 176.9L1265.1 181.2L1267.7 185.5L1276.5 185.7L1271.4 188.7L1268.4 191.8L1271.4 195.5L1274.7 200.6L1275.2 204.3L1273.9 208.1L1270.2 213.1L1267.7 216.9L1262.6 220.7L1255.6 223.7L1248.8 225.7L1245.0 228.7L1245.0 226.0L1240.0 225.5L1236.2 229.5L1234.2 232.5L1237.5 238.3L1242.5 244.6L1243.3 249.6L1237.5 253.4L1232.5 257.9L1232.2 254.6L1227.4 252.1L1224.9 248.3L1222.2 246.1L1219.9 246.3L1218.1 252.1L1217.9 256.4L1220.9 259.6L1222.4 262.7L1225.7 264.2L1228.4 268.4L1228.7 273.0L1230.4 276.2L1228.7 276.5L1223.2 272.7L1220.9 265.9L1217.4 259.6L1215.9 259.6L1216.1 254.6L1216.1 249.6L1213.9 243.3L1213.6 238.3L1208.1 240.0L1205.6 239.5L1206.1 234.5L1204.1 230.7L1199.8 225.7L1198.5 223.2L1194.8 224.4L1189.7 225.2L1187.2 225.7L1186.0 229.5L1182.2 230.7L1175.4 238.0L1170.1 241.3L1170.4 247.1L1169.1 253.9L1167.1 256.6L1164.6 257.9L1163.3 259.4L1160.8 257.1L1158.3 250.8L1156.5 247.1L1154.5 242.0L1152.5 237.0L1151.5 232.0L1151.5 227.0L1150.0 226.5L1146.5 227.5L1142.0 223.7L1145.2 222.2L1140.7 220.7L1137.9 218.2L1135.7 216.1L1130.6 216.4L1123.1 216.7L1116.3 215.6L1112.3 212.4L1110.0 211.6L1106.0 213.1L1100.5 210.6L1096.7 207.3L1094.2 203.8L1090.4 204.3L1089.2 205.3L1090.9 208.6L1094.2 212.6L1094.7 215.1L1096.0 216.9L1097.2 214.1L1098.2 216.9L1098.0 218.7L1101.7 219.2L1105.5 218.9L1109.3 214.4L1110.3 213.6L1110.5 218.2L1115.6 220.4L1118.8 223.4L1115.6 228.5L1113.6 232.0L1111.8 234.5L1107.3 236.0L1099.7 239.5L1091.7 244.1L1081.6 247.6L1077.9 247.8L1076.1 242.5L1075.3 238.3L1070.8 230.7L1066.8 225.7L1065.3 220.7L1061.5 215.6L1056.5 209.4L1056.2 205.6L1054.7 209.4L1052.7 208.9L1050.5 204.6L1050.2 204.3L1054.0 211.9L1057.7 219.4L1061.5 227.0L1062.3 232.5L1066.5 240.8L1076.6 248.3L1077.4 250.8L1081.6 253.4L1096.7 249.6L1095.5 257.1L1089.2 268.4L1082.9 274.7L1074.1 282.3L1069.1 287.3L1066.5 294.8L1067.8 304.9L1070.3 317.5L1064.0 323.2L1056.5 330.0L1057.7 340.1L1051.2 345.1L1048.9 351.4L1043.9 358.9L1036.4 364.0L1032.6 365.2L1018.8 367.2L1014.8 365.2L1013.8 360.2L1010.0 351.4L1006.2 346.4L1005.0 336.3L998.7 325.0L998.2 318.7L1002.4 309.9L1001.9 302.4L999.2 294.8L998.2 291.1L991.1 282.3L992.4 277.2L992.9 271.0L989.9 268.2L986.1 268.9L983.6 268.9L979.8 263.9L971.0 264.7L963.5 267.7L958.4 266.7L949.6 268.7L945.9 267.2L940.8 262.7L935.8 258.4L934.6 254.6L930.8 252.1L926.5 245.8L924.5 242.8L927.0 239.5L928.3 232.0L925.8 227.0L928.3 220.7L932.0 214.4L935.8 209.9L943.4 205.6L944.1 200.6L949.6 195.3L953.4 189.8L963.5 191.5L976.0 187.2L993.6 186.0L996.2 195.5L1006.2 198.3L1016.3 203.6L1018.8 198.0L1026.3 197.8L1031.3 200.3L1041.4 201.8L1048.9 201.3L1054.5 201.1L1056.5 196.8L1058.7 191.8L1059.0 187.2L1054.0 188.7L1048.9 189.0L1045.2 188.0L1041.4 187.7L1037.1 186.7L1034.6 181.0L1033.9 177.9L1028.8 177.2L1025.8 178.2L1027.6 181.7L1026.3 184.2L1028.8 184.7L1026.3 188.0L1025.1 188.0L1022.0 185.5L1018.8 179.9L1017.3 175.4L1016.3 173.4L1008.7 170.4L1005.0 166.1L1002.9 165.1L999.4 165.9L999.9 169.1L1003.7 172.9L1008.7 174.7L1014.8 178.7L1011.2 178.2L1010.0 180.5L1011.2 182.0L1008.7 184.2L1008.0 184.2L1008.7 180.5L1007.5 179.2L1003.7 177.2L999.4 174.9L994.9 171.9L993.6 169.1L990.6 168.1L987.4 169.6L983.6 171.4L979.8 170.6L976.0 171.1L976.5 174.2L970.5 176.7L967.7 180.5L969.0 182.5L966.7 185.2L963.5 187.2L957.2 187.5L954.9 189.0L952.7 187.2L949.9 186.2L946.1 186.7L946.4 183.0L944.6 182.2L946.4 176.7L945.4 171.7L948.4 169.9L955.9 170.4L964.0 170.6L965.5 167.6L965.7 164.1L963.0 161.1L956.9 159.1L956.7 157.8L963.5 157.3L964.5 155.1L969.0 155.3L972.5 152.8L974.8 151.3L978.6 149.0L980.6 146.5L986.1 145.0L989.9 144.5L990.4 141.5L989.1 137.0L988.9 136.2L994.9 134.7L994.4 137.7L993.6 140.2L995.6 144.0L999.9 143.2L1004.2 144.3L1015.0 142.2L1018.8 142.7L1021.3 140.2L1021.3 136.5L1025.1 134.7L1029.6 136.0L1029.6 133.2L1027.6 130.9L1036.4 130.2L1043.9 128.9L1040.1 127.7L1031.3 128.4L1025.1 128.9L1022.0 126.4L1022.5 122.6L1030.1 116.9L1032.1 115.1L1023.8 114.3L1022.0 117.6L1013.8 122.6L1011.7 126.4L1015.0 128.9L1013.8 130.7L1010.0 133.9L1009.5 137.7L1004.4 139.0L1004.2 140.5L1001.2 140.5L999.9 138.2L998.2 133.9L996.2 131.4L994.9 130.2L991.1 132.4L986.1 133.9L982.3 131.9L981.1 127.7L981.1 123.9L986.1 121.4L994.9 118.1L998.7 115.1L1001.2 111.3L1006.2 107.5L1012.5 105.0L1018.8 103.8L1026.3 102.0ZM546.2 114.8L549.9 108.1L558.7 106.3L562.5 103.0L574.8 100.5L586.4 101.8L596.4 103.0L614.0 104.8L626.6 106.3L634.2 105.0L646.7 103.3L654.3 105.0L664.3 104.3L679.4 107.5L681.9 108.3L694.5 109.3L697.0 107.5L709.6 108.8L722.1 108.8L727.2 110.1L729.7 106.3L725.9 103.8L730.9 99.0L737.2 102.5L742.2 107.0L747.3 110.1L752.3 108.8L762.4 105.0L764.1 107.5L762.4 111.3L753.6 112.6L749.8 116.3L748.5 118.9L742.2 118.9L734.7 122.6L730.9 128.9L730.9 132.2L736.0 136.5L747.3 137.7L754.8 140.7L761.6 141.5L761.9 146.5L766.1 150.8L769.9 150.3L769.9 144.0L774.9 139.0L771.2 132.7L772.4 128.9L773.7 122.9L782.5 123.1L792.5 126.4L793.8 131.4L800.1 133.2L805.1 129.4L806.4 128.2L812.6 135.2L815.2 139.0L822.7 142.0L827.7 146.5L828.5 149.0L825.2 150.5L817.7 153.6L805.1 153.6L800.1 155.8L791.3 161.6L797.6 157.3L805.1 156.1L806.9 157.1L805.1 159.1L805.6 161.6L808.9 164.1L813.9 165.4L818.2 164.1L815.2 165.9L808.9 167.9L803.8 170.4L802.1 168.6L806.4 165.9L800.1 166.6L795.0 169.1L791.8 170.4L790.5 172.9L792.5 174.7L788.8 175.7L782.5 177.7L782.0 180.5L779.2 183.0L777.4 186.7L778.2 190.3L774.9 193.0L769.9 196.0L764.9 200.1L763.9 203.6L766.9 211.9L766.9 216.1L764.4 216.4L760.6 210.4L760.3 206.8L757.3 204.3L753.6 204.8L748.5 203.6L743.5 203.8L744.3 206.6L739.7 206.3L732.7 205.1L729.7 206.8L724.1 210.1L723.9 214.4L722.6 221.9L723.9 228.2L727.2 232.0L730.7 234.0L737.2 233.0L740.5 230.7L741.2 227.0L749.8 225.7L748.5 230.7L747.3 233.2L746.5 235.8L745.3 239.5L752.3 240.0L757.3 240.0L759.1 242.0L758.3 248.3L758.1 252.1L761.1 256.4L764.9 257.6L768.4 255.9L772.4 256.4L774.4 258.4L778.7 253.4L781.2 252.1L787.5 249.6L788.8 248.6L788.3 253.4L792.5 250.8L792.5 249.1L796.8 252.1L802.6 253.1L807.6 253.4L812.6 252.9L815.2 255.9L817.7 258.4L821.4 262.2L825.2 264.7L830.2 264.7L834.0 265.7L839.0 268.4L842.8 276.0L842.8 279.8L846.6 281.0L849.1 281.3L856.6 285.5L859.1 285.8L864.2 287.0L870.5 288.0L875.0 291.8L879.8 292.8L881.0 298.6L879.8 303.6L875.5 308.7L871.7 312.4L870.5 317.5L869.7 325.0L867.4 330.8L865.4 335.1L862.9 337.6L857.9 337.6L851.6 340.1L847.1 344.6L846.3 350.1L842.8 355.2L837.8 360.2L834.3 364.7L830.5 367.5L826.5 367.2L821.7 365.2L825.2 370.2L823.7 375.3L820.2 377.0L812.6 377.8L812.1 382.1L805.1 382.8L805.1 386.6L808.4 386.6L804.3 392.9L798.8 395.4L802.6 398.4L803.1 400.4L798.1 405.4L795.0 408.0L796.6 411.5L796.8 413.7L801.3 416.8L804.3 417.5L797.6 419.3L790.0 417.5L785.0 414.2L781.2 410.5L779.2 405.4L778.7 399.2L782.5 392.9L785.0 385.3L783.0 380.3L783.7 373.3L786.2 369.0L788.5 362.7L788.8 355.2L790.5 348.9L791.5 340.1L792.0 331.3L791.8 325.8L788.8 323.2L782.5 320.0L776.9 314.9L774.4 309.9L771.2 303.6L767.9 297.3L764.4 294.8L764.1 291.1L767.4 288.0L766.6 286.0L764.9 285.3L765.4 282.3L767.4 278.5L770.2 276.0L773.7 270.2L773.9 263.4L771.9 261.4L771.2 258.4L767.4 261.4L763.6 259.6L759.8 258.9L754.8 254.6L752.8 252.1L748.5 247.1L743.5 245.8L738.5 244.6L732.2 239.3L725.9 240.3L718.4 237.8L712.1 234.5L707.1 232.0L703.3 228.5L703.5 225.7L700.8 220.7L697.0 215.6L693.2 212.4L689.5 209.4L684.9 204.3L683.2 201.1L679.9 199.8L680.4 204.3L684.4 209.4L688.2 214.4L690.7 218.7L693.2 221.9L692.0 222.2L686.9 217.4L686.2 213.9L681.9 211.4L679.4 208.6L681.4 207.6L677.4 203.6L674.4 198.0L670.6 194.3L665.3 192.8L662.3 188.0L660.5 184.7L657.3 180.5L656.0 178.2L656.5 171.7L656.8 163.6L655.0 158.1L660.5 160.3L659.3 156.6L654.3 154.1L648.0 151.5L646.7 147.8L641.7 142.7L636.7 139.0L631.6 133.9L625.4 133.2L619.1 129.4L607.8 128.9L600.2 126.9L595.2 128.9L587.6 130.7L588.9 126.4L583.9 130.2L581.4 133.9L575.1 136.5L570.0 139.0L561.2 141.5L554.2 142.5L558.7 140.7L565.0 139.0L571.3 135.2L573.1 131.9L568.8 132.2L561.2 132.2L561.2 128.9L555.0 127.7L551.2 124.4L553.7 121.4L558.7 120.9L563.8 119.6L563.8 117.4L556.2 117.6L549.9 117.1ZM785.0 83.2L797.6 77.4L812.6 74.9L830.2 72.9L855.4 71.6L880.5 69.8L905.7 71.1L918.2 73.6L938.3 74.9L925.8 78.6L920.7 83.7L922.0 88.7L918.2 92.5L913.2 96.2L913.2 100.0L913.2 103.0L905.7 105.0L893.1 108.3L885.5 111.3L875.5 114.6L867.9 116.3L862.9 122.6L859.9 128.9L855.4 128.9L847.8 126.4L842.8 122.6L837.8 116.3L834.0 111.3L840.3 105.0L831.5 102.5L830.2 97.5L822.7 90.0L810.1 88.2L797.6 88.7L790.0 85.7ZM348.8 335.1L350.6 345.1L352.6 355.2L354.4 360.2L352.6 366.0L360.1 367.7L365.2 365.2L374.0 365.0L380.2 360.9L387.8 359.2L393.3 358.9L401.6 362.7L404.1 367.2L406.6 365.2L409.9 361.7L409.2 367.7L411.7 366.5L411.2 369.2L414.7 371.5L416.7 375.3L424.2 377.0L427.5 375.3L431.3 377.8L435.6 375.0L440.6 373.5L442.6 367.7L444.4 362.7L448.1 357.7L449.4 350.1L448.1 343.9L443.1 338.8L439.3 335.1L436.8 330.0L431.3 327.5L430.5 322.5L428.8 317.5L425.0 315.7L422.0 306.9L419.5 312.4L419.2 318.7L417.5 323.7L412.9 323.7L407.9 319.5L404.1 317.5L405.4 313.7L407.4 310.4L402.9 309.9L396.6 308.7L392.8 310.4L389.8 317.0L385.8 317.0L382.8 314.9L379.0 316.2L375.2 320.7L370.9 322.5L370.7 325.5L367.7 328.8L361.4 330.8L355.1 332.0L351.3 334.6ZM427.3 382.1L431.8 383.1L436.3 382.6L436.1 386.1L434.3 388.6L430.5 389.1L428.8 386.1ZM497.6 366.5L500.9 369.0L503.4 372.3L505.9 374.3L511.0 374.3L512.0 375.3L509.2 378.5L508.2 381.1L504.2 384.3L502.9 383.3L503.4 380.3L500.4 378.5L502.7 375.3L502.2 371.8L498.9 368.5ZM497.6 381.6L501.4 383.1L501.4 385.1L497.9 388.6L498.4 390.1L494.1 391.1L492.9 394.9L489.6 396.9L486.6 396.6L482.1 395.4L483.3 392.9L486.6 390.4L492.1 387.8L494.6 384.8ZM187.4 309.9L189.9 318.7L187.9 323.7L186.2 330.0L183.7 337.6L181.7 342.6L177.1 343.9L173.4 340.1L172.4 335.1L174.9 330.0L174.1 323.7L176.6 320.0L181.7 317.5L184.2 313.7ZM264.6 255.1L267.9 258.4L269.1 262.2L267.1 264.4L264.6 264.4L263.9 259.6ZM50.4 154.1L54.7 153.3L61.0 152.3L66.8 151.0L64.8 150.3L67.8 147.3L64.3 146.5L63.5 144.8L60.2 141.5L58.5 139.0L55.5 139.0L58.5 134.9L53.4 134.7L55.5 132.4L50.9 132.4L47.9 135.2L49.7 139.0L51.4 142.0L55.5 142.0L56.0 145.5L52.2 146.0L52.7 148.5L50.4 149.5L55.5 150.5L52.2 151.5ZM955.4 154.1L959.7 153.3L966.0 152.3L971.8 151.0L969.8 150.3L972.8 147.3L969.3 146.5L968.5 144.8L965.2 141.5L963.5 139.0L960.5 139.0L963.5 134.9L958.4 134.7L960.5 132.4L955.9 132.4L952.9 135.2L954.7 139.0L956.4 142.0L960.5 142.0L961.0 145.5L957.2 146.0L957.7 148.5L955.4 149.5L960.5 150.5L957.2 151.5ZM952.9 148.5L953.4 145.3L954.2 142.7L952.2 141.0L947.9 141.0L947.1 143.2L943.4 143.5L944.6 146.0L942.6 149.0L944.6 150.3L948.4 149.5ZM911.9 119.1L918.2 120.1L923.2 120.4L930.8 118.1L934.3 116.3L931.3 113.3L927.0 112.8L922.0 113.8L915.7 114.8L911.9 112.8L908.2 114.8L913.2 116.3L908.2 116.9L913.2 118.1ZM91.2 81.2L97.4 78.6L106.2 78.9L116.3 77.9L131.4 78.1L123.8 80.6L111.3 81.7L118.8 83.2L112.5 84.9L106.2 86.9L101.2 85.4L97.4 83.2ZM193.0 99.8L198.0 102.0L208.0 102.3L203.0 98.8L204.3 95.0L211.8 91.2L221.9 88.7L235.7 86.7L234.4 88.2L216.8 92.5L209.3 95.0L206.8 98.8L201.8 100.5ZM179.1 77.4L189.2 78.6L204.3 78.1L219.4 77.1L209.3 75.4L194.2 76.1L184.2 76.6ZM302.3 81.2L312.4 83.7L324.9 82.9L327.5 80.6L314.9 78.6L307.3 76.1L294.8 77.4ZM407.9 90.0L415.4 92.0L428.0 91.2L440.6 90.7L435.6 88.7L420.5 88.7L410.4 88.7ZM513.5 101.3L518.5 100.0L522.3 101.3L518.5 101.8ZM420.5 143.2L423.0 146.5L423.7 151.5L424.2 155.3L426.8 156.6L423.0 157.8L423.7 162.1L421.7 164.1L420.5 160.3L420.5 154.1L420.0 147.8ZM415.4 175.4L418.0 173.4L423.0 174.2L429.3 170.9L426.8 169.1L423.0 168.4L420.0 165.6L419.2 170.4L416.2 171.7ZM392.6 194.3L395.3 194.8L400.4 192.8L404.1 195.5L407.9 192.8L412.9 191.8L417.5 191.0L418.0 185.5L420.5 180.5L419.2 175.9L415.9 176.7L415.4 180.5L412.9 184.2L408.7 186.7L406.6 188.0L404.9 190.3L397.8 190.5L394.1 192.5ZM389.8 196.3L392.8 194.8L395.3 196.8L394.1 200.6L392.1 201.8L390.8 200.6L391.1 198.0ZM396.6 194.8L401.6 193.8L401.1 196.0L397.8 197.3ZM367.7 216.4L369.9 216.9L368.9 220.7L367.2 224.4L365.4 221.9L365.9 219.4ZM336.8 231.2L340.0 229.5L342.5 230.5L340.8 233.5L337.5 233.7ZM366.7 233.2L370.7 233.2L370.9 238.3L368.9 240.8L370.2 244.1L375.2 245.1L375.2 247.8L371.5 245.3L367.7 245.3L366.4 243.3L365.2 239.5L366.2 237.0ZM370.2 262.2L374.0 258.1L378.7 255.4L381.5 259.6L381.0 263.4L379.0 264.7L378.5 262.2L375.2 262.2L374.0 260.4L370.7 262.4ZM370.2 250.1L372.7 250.8L376.5 248.3L379.0 249.6L379.0 253.4L375.2 253.4L374.0 255.9L371.5 254.6L370.2 253.4ZM358.1 258.4L363.9 253.4L364.2 251.3L361.4 254.6L357.6 257.6ZM337.5 276.0L339.0 274.7L342.5 276.0L343.8 272.7L347.6 271.7L352.6 267.2L356.9 262.2L359.4 264.7L362.7 266.7L360.1 268.9L358.9 271.5L362.1 277.2L359.4 278.5L358.9 282.3L356.4 286.0L355.6 289.8L351.3 289.8L348.8 288.0L344.6 288.5L340.5 286.8L340.0 283.5L337.5 281.0ZM303.1 265.7L308.6 266.7L311.6 270.2L316.1 274.2L319.9 277.2L323.7 279.8L324.4 282.3L326.2 284.8L330.0 287.3L329.5 294.3L326.2 294.3L320.7 289.8L317.4 286.0L315.6 281.8L312.4 278.5L311.1 275.2L307.9 272.2L303.6 267.9ZM328.0 296.8L330.0 294.6L336.3 296.3L342.0 295.8L346.8 297.1L351.3 299.1L351.1 301.6L345.1 300.6L337.5 299.4L332.5 299.1L328.7 297.3ZM354.4 300.4L357.6 300.6L362.7 300.6L366.4 300.6L372.2 300.6L371.5 301.9L365.2 302.1L360.1 302.1L355.1 302.1ZM374.2 305.6L377.7 302.4L382.8 300.9L383.3 301.6L377.7 304.9ZM362.7 303.6L366.4 304.1L366.7 305.4L363.9 305.1ZM364.7 277.7L367.7 276.7L372.7 277.5L377.7 275.7L376.5 278.7L372.7 278.7L367.7 278.7L365.7 281.8L368.9 282.0L373.5 281.8L371.5 283.8L368.9 284.8L370.9 288.0L372.7 290.3L371.5 292.8L369.4 291.8L367.7 287.3L366.2 288.0L366.2 293.6L363.9 293.6L363.9 288.5L362.1 286.8L363.9 281.8ZM384.0 274.7L386.5 276.0L385.3 278.5L387.0 280.3L384.8 281.8L384.8 277.7ZM385.3 287.3L390.3 286.8L392.3 288.5L389.0 288.5ZM392.8 281.8L396.6 280.8L400.4 281.8L401.1 286.0L404.1 288.0L409.2 283.8L418.0 286.3L426.8 289.6L430.5 293.6L434.8 294.8L434.3 297.3L438.1 302.4L442.3 305.6L439.3 305.9L433.0 303.6L428.0 299.4L424.2 300.6L423.0 302.9L418.0 302.9L412.9 299.9L410.4 300.6L412.4 297.3L410.4 293.6L404.1 290.8L398.6 289.8L397.3 287.3L399.9 285.3L395.3 285.3ZM436.8 293.8L440.6 292.3L445.6 290.3L446.4 292.3L443.1 294.8L439.3 295.6ZM442.6 286.3L446.9 288.5L448.1 291.3L446.4 289.8L443.1 287.3ZM452.1 293.3L455.4 296.8L454.2 296.8ZM458.2 298.1L465.2 301.1L464.0 301.1ZM464.7 303.1L467.7 304.6L465.7 304.4ZM475.8 330.3L479.5 332.5L483.3 335.8L480.8 335.1L477.0 332.5ZM509.2 323.7L512.5 324.0L512.2 325.5L509.5 325.3ZM512.5 322.0L516.0 320.5L514.7 322.0ZM482.3 317.5L483.8 319.0L483.3 320.7ZM576.3 229.0L578.8 230.5L577.1 232.0L576.3 230.5ZM755.1 224.7L759.8 221.9L766.1 221.7L773.7 225.2L780.0 227.7L782.0 229.0L773.7 229.7L774.4 228.0L769.9 225.7L763.6 223.9L758.6 223.9ZM781.5 233.5L785.0 229.7L792.5 230.0L796.6 233.0L792.5 233.7L788.8 235.3L786.2 234.0ZM771.7 233.7L774.9 233.2L776.9 234.5L773.7 235.0ZM799.6 233.2L803.6 233.5L802.6 234.8L799.6 234.5ZM812.9 252.9L815.2 252.6L815.2 254.4L812.9 254.4ZM819.4 159.8L824.0 152.8L828.2 150.0L829.0 154.1L833.5 155.3L835.3 160.3L834.0 162.4L829.0 161.6L827.7 159.8ZM646.0 152.0L653.0 153.6L658.0 157.8L654.3 157.1L648.0 154.1ZM766.1 94.5L774.9 96.2L790.0 100.0L797.6 103.0L812.6 111.3L813.9 113.8L807.6 116.3L805.1 120.1L801.3 123.9L796.3 123.1L787.5 119.4L773.7 117.6L782.5 115.6L785.0 108.8L774.9 104.5L763.6 103.8L752.3 103.0L743.5 101.3L743.5 96.2L754.8 94.7ZM742.2 87.4L754.8 86.2L767.4 87.9L774.9 83.7L780.0 79.9L797.6 76.6L812.6 72.4L792.5 70.8L767.4 71.1L742.2 73.6L737.2 76.1L747.3 77.4L749.8 81.2ZM737.2 91.7L754.8 89.7L767.4 91.2L764.9 92.5L742.2 92.5ZM671.9 100.0L679.4 95.5L697.0 95.7L704.5 96.7L713.3 103.8L704.5 106.5L686.9 107.5L675.6 105.5L674.4 102.5ZM654.3 98.8L658.0 93.2L671.9 93.2L678.1 95.5L669.3 98.8L661.8 100.8ZM674.4 90.5L684.4 87.9L699.5 88.7L702.0 91.2L692.0 91.7L681.9 92.5ZM729.7 79.9L742.2 77.4L749.8 80.4L737.2 82.9ZM707.1 90.0L717.1 87.4L724.7 88.7L723.4 91.2L712.1 91.2ZM712.1 96.2L719.6 94.2L724.7 96.7L722.1 100.0L717.1 100.0ZM727.2 95.0L733.5 93.7L741.0 95.0L737.2 98.8L729.7 98.8ZM719.6 105.8L724.7 104.3L728.4 106.3L723.4 107.3ZM749.8 120.1L754.8 114.3L764.9 118.9L758.6 123.1ZM63.5 459.5L72.8 457.0L87.4 456.5L103.7 456.7L121.3 457.5L133.9 455.7L146.7 453.5L149.0 452.5L160.5 455.2L166.6 452.0L172.1 450.2L188.9 449.7L195.5 445.4L203.8 446.4L212.3 449.2L224.4 449.9L237.7 450.7L240.7 457.0L244.5 455.7L252.5 455.0L259.6 453.2L268.1 450.4L278.7 447.4L294.8 447.2L310.4 447.2L323.2 445.4L335.8 447.4L346.3 445.9L363.4 447.4L382.3 446.4L388.8 448.2L395.1 445.9L405.4 446.4L416.2 446.9L433.0 450.7L454.2 453.5L469.0 456.0L476.3 457.5L484.6 457.7L493.1 459.5L486.8 463.3L476.3 468.3L472.3 470.8L475.8 474.6L474.5 477.1L465.7 480.9L468.2 485.9L476.3 486.6L518.5 490.9L556.7 494.4L601.0 493.9L597.7 491.7L581.9 488.7L580.9 484.6L603.2 482.4L586.4 479.1L571.3 476.6L570.3 473.8L590.4 472.8L601.0 470.3L630.6 467.5L647.5 471.3L658.0 464.0L675.1 465.5L684.4 466.0L705.5 468.3L716.1 467.5L714.1 461.3L726.7 460.8L728.4 463.3L737.2 462.3L771.2 463.3L777.4 461.3L777.4 457.0L785.0 455.0L792.5 453.2L797.6 455.7L799.6 460.8L798.6 454.0L796.6 447.4L805.1 443.7L811.4 442.1L819.7 440.1L830.2 438.6L815.4 442.1L807.1 446.4L803.8 449.7L811.4 454.0L814.4 458.2L817.7 463.3L811.4 469.8L799.6 472.8L818.7 473.3L839.8 476.6L860.9 478.1L875.7 476.6L892.8 472.8L911.7 466.5L937.1 462.3L941.3 459.2L953.4 459.0L968.5 459.5L968.5 506.0L63.5 506.0ZM556.2 478.3L562.5 477.3L567.0 479.1L562.5 481.4L557.0 480.6ZM84.4 181.7L87.6 181.2L87.9 177.2L86.6 176.2L84.4 177.2ZM85.4 175.4L87.1 175.2L87.4 171.9L85.4 172.9ZM94.9 184.2L102.5 183.7L101.7 187.2L96.2 186.0ZM122.8 190.5L129.4 191.0L129.4 191.8L122.8 191.3ZM144.9 191.8L150.2 190.3L148.5 192.5L145.5 192.5ZM133.9 175.4L141.4 176.2L146.5 174.2L151.5 174.2L155.3 175.9L160.3 176.7L167.8 175.4L167.8 172.2L161.5 169.1L157.8 167.4L159.0 164.1L161.5 161.1L156.5 162.1L151.5 164.1L155.3 165.6L151.5 167.1L148.2 168.1L146.5 165.4L143.9 162.9L140.7 163.4L138.2 166.1L135.6 169.1L133.9 172.9ZM181.7 165.4L186.7 162.9L191.7 162.1L196.7 162.9L196.7 166.1L191.7 166.6L190.5 167.9L192.2 171.1L195.5 172.9L196.2 176.7L198.7 179.2L196.7 181.7L199.2 186.0L194.2 187.5L189.2 186.0L186.7 183.0L187.9 178.4L185.4 174.7L182.9 171.7L181.1 167.9ZM210.6 166.6L213.1 162.9L218.1 162.9L218.1 167.9L214.3 169.6L211.1 169.1ZM658.8 115.6L663.1 116.3L668.1 115.8L673.1 113.1L669.3 111.6L664.3 112.1L660.5 113.3ZM674.9 126.2L679.4 125.1L684.4 123.9L689.5 122.4L695.5 121.6L690.7 123.9L684.4 125.4L679.4 126.7ZM689.5 131.9L694.5 130.7L699.5 129.7L694.5 131.4ZM710.3 133.4L713.1 134.4L713.6 138.0L711.6 137.5ZM715.4 145.0L718.6 145.5L722.1 148.5L725.9 151.5L728.4 152.8L724.7 153.3L720.9 150.5L717.1 147.8ZM737.7 162.1L742.2 159.6L747.3 157.1L752.3 159.1L756.1 162.6L749.8 162.9L744.8 162.1ZM748.5 164.6L754.3 164.1L754.8 169.1L751.0 175.2L748.0 174.2L748.5 169.1ZM757.3 164.1L762.4 164.1L768.6 166.6L764.9 171.1L761.1 171.1L758.6 167.9ZM759.8 175.4L764.9 173.7L769.9 172.2L764.9 175.2ZM769.9 171.1L774.9 169.6L778.7 168.6L774.9 171.1ZM324.7 150.3L328.7 150.0L333.7 147.0L338.8 142.7L340.3 139.7L338.3 140.0L335.0 144.0L330.0 147.0L325.4 149.3ZM248.3 165.9L250.0 162.6L254.6 161.8L263.1 161.8L262.1 162.9L254.6 163.1L250.8 164.9L249.5 166.6ZM143.2 279.0L149.0 279.0L149.0 283.5L146.5 286.5L143.4 285.5ZM136.9 288.0L138.4 291.1L139.7 296.1L141.7 301.6L140.2 301.1L137.7 296.1L136.4 291.1ZM148.7 303.6L150.2 307.4L151.0 311.2L152.2 315.9L150.7 315.4L149.5 311.2L148.7 307.4ZM95.7 243.8L98.7 244.6L101.5 247.3L99.4 248.8L96.9 246.3ZM139.4 125.1L146.0 125.6L145.5 128.4L141.4 129.2L139.7 127.4ZM150.0 122.1L155.0 123.1L153.7 126.4L151.2 125.9Z"/>
</g>
<path d="M63.50 38.0V53.5M63.50 506.0V521.5" class="mj"/>
<path d="M88.64 46.0V53.5M88.64 506.0V513.5" class="mn"/>
<path d="M113.78 46.0V53.5M113.78 506.0V513.5" class="mn"/>
<path d="M138.92 38.0V53.5M138.92 506.0V521.5" class="mj"/>
<path d="M164.06 46.0V53.5M164.06 506.0V513.5" class="mn"/>
<path d="M189.19 46.0V53.5M189.19 506.0V513.5" class="mn"/>
<path d="M214.33 38.0V53.5M214.33 506.0V521.5" class="mj"/>
<path d="M239.47 46.0V53.5M239.47 506.0V513.5" class="mn"/>
<path d="M264.61 46.0V53.5M264.61 506.0V513.5" class="mn"/>
<path d="M289.75 38.0V53.5M289.75 506.0V521.5" class="mj"/>
<path d="M314.89 46.0V53.5M314.89 506.0V513.5" class="mn"/>
<path d="M340.03 46.0V53.5M340.03 506.0V513.5" class="mn"/>
<path d="M365.17 38.0V53.5M365.17 506.0V521.5" class="mj"/>
<path d="M390.31 46.0V53.5M390.31 506.0V513.5" class="mn"/>
<path d="M415.44 46.0V53.5M415.44 506.0V513.5" class="mn"/>
<path d="M440.58 38.0V53.5M440.58 506.0V521.5" class="mj"/>
<path d="M465.72 46.0V53.5M465.72 506.0V513.5" class="mn"/>
<path d="M490.86 46.0V53.5M490.86 506.0V513.5" class="mn"/>
<path d="M516.00 38.0V53.5M516.00 506.0V521.5" class="mj"/>
<path d="M541.14 46.0V53.5M541.14 506.0V513.5" class="mn"/>
<path d="M566.28 46.0V53.5M566.28 506.0V513.5" class="mn"/>
<path d="M591.42 38.0V53.5M591.42 506.0V521.5" class="mj"/>
<path d="M616.56 46.0V53.5M616.56 506.0V513.5" class="mn"/>
<path d="M641.69 46.0V53.5M641.69 506.0V513.5" class="mn"/>
<path d="M666.83 38.0V53.5M666.83 506.0V521.5" class="mj"/>
<path d="M691.97 46.0V53.5M691.97 506.0V513.5" class="mn"/>
<path d="M717.11 46.0V53.5M717.11 506.0V513.5" class="mn"/>
<path d="M742.25 38.0V53.5M742.25 506.0V521.5" class="mj"/>
<path d="M767.39 46.0V53.5M767.39 506.0V513.5" class="mn"/>
<path d="M792.53 46.0V53.5M792.53 506.0V513.5" class="mn"/>
<path d="M817.67 38.0V53.5M817.67 506.0V521.5" class="mj"/>
<path d="M842.81 46.0V53.5M842.81 506.0V513.5" class="mn"/>
<path d="M867.94 46.0V53.5M867.94 506.0V513.5" class="mn"/>
<path d="M893.08 38.0V53.5M893.08 506.0V521.5" class="mj"/>
<path d="M918.22 46.0V53.5M918.22 506.0V513.5" class="mn"/>
<path d="M943.36 46.0V53.5M943.36 506.0V513.5" class="mn"/>
<path d="M968.50 38.0V53.5M968.50 506.0V521.5" class="mj"/>
<path d="M48.0 506.00H63.5M968.5 506.00H984.0" class="mj"/>
<path d="M56.0 480.86H63.5M968.5 480.86H976.0" class="mn"/>
<path d="M56.0 455.72H63.5M968.5 455.72H976.0" class="mn"/>
<path d="M48.0 430.58H63.5M968.5 430.58H984.0" class="mj"/>
<path d="M56.0 405.44H63.5M968.5 405.44H976.0" class="mn"/>
<path d="M56.0 380.31H63.5M968.5 380.31H976.0" class="mn"/>
<path d="M48.0 355.17H63.5M968.5 355.17H984.0" class="mj"/>
<path d="M56.0 330.03H63.5M968.5 330.03H976.0" class="mn"/>
<path d="M56.0 304.89H63.5M968.5 304.89H976.0" class="mn"/>
<path d="M48.0 279.75H63.5M968.5 279.75H984.0" class="mj"/>
<path d="M56.0 254.61H63.5M968.5 254.61H976.0" class="mn"/>
<path d="M56.0 229.47H63.5M968.5 229.47H976.0" class="mn"/>
<path d="M48.0 204.33H63.5M968.5 204.33H984.0" class="mj"/>
<path d="M56.0 179.19H63.5M968.5 179.19H976.0" class="mn"/>
<path d="M56.0 154.06H63.5M968.5 154.06H976.0" class="mn"/>
<path d="M48.0 128.92H63.5M968.5 128.92H984.0" class="mj"/>
<path d="M56.0 103.78H63.5M968.5 103.78H976.0" class="mn"/>
<path d="M56.0 78.64H63.5M968.5 78.64H976.0" class="mn"/>
<path d="M48.0 53.50H63.5M968.5 53.50H984.0" class="mj"/>
<rect x="63.5" y="53.5" width="905.0" height="452.5" fill="none" class="mj"/>
<text transform="translate(35.8,60.7) scale(0.955,1)" text-anchor="end" class="tl">90N</text>
<text transform="translate(35.8,136.1) scale(0.955,1)" text-anchor="end" class="tl">60N</text>
<text transform="translate(35.8,211.5) scale(0.955,1)" text-anchor="end" class="tl">30N</text>
<text transform="translate(35.8,286.9) scale(0.955,1)" text-anchor="end" class="tl">0</text>
<text transform="translate(35.8,362.4) scale(0.955,1)" text-anchor="end" class="tl">30S</text>
<text transform="translate(35.8,437.8) scale(0.955,1)" text-anchor="end" class="tl">60S</text>
<text transform="translate(35.8,513.2) scale(0.955,1)" text-anchor="end" class="tl">90S</text>
<text transform="translate(63.5,550.2) scale(0.955,1)" text-anchor="middle" class="tl">0</text>
<text transform="translate(138.9,550.2) scale(0.955,1)" text-anchor="middle" class="tl">30E</text>
<text transform="translate(214.3,550.2) scale(0.955,1)" text-anchor="middle" class="tl">60E</text>
<text transform="translate(289.8,550.2) scale(0.955,1)" text-anchor="middle" class="tl">90E</text>
<text transform="translate(365.2,550.2) scale(0.955,1)" text-anchor="middle" class="tl">120E</text>
<text transform="translate(440.6,550.2) scale(0.955,1)" text-anchor="middle" class="tl">150E</text>
<text transform="translate(516.0,550.2) scale(0.955,1)" text-anchor="middle" class="tl">180</text>
<text transform="translate(591.4,550.2) scale(0.955,1)" text-anchor="middle" class="tl">150W</text>
<text transform="translate(666.8,550.2) scale(0.955,1)" text-anchor="middle" class="tl">120W</text>
<text transform="translate(742.2,550.2) scale(0.955,1)" text-anchor="middle" class="tl">90W</text>
<text transform="translate(817.7,550.2) scale(0.955,1)" text-anchor="middle" class="tl">60W</text>
<text transform="translate(893.1,550.2) scale(0.955,1)" text-anchor="middle" class="tl">30W</text>
<text transform="translate(968.5,550.2) scale(0.955,1)" text-anchor="middle" class="tl">0</text>
<rect x="144.70" y="568.0" width="74.60" height="39.799999999999955" fill="#edfac2"/>
<rect x="219.00" y="568.0" width="74.60" height="39.799999999999955" fill="#cdffcd"/>
<rect x="293.30" y="568.0" width="74.60" height="39.799999999999955" fill="#99f0b2"/>
<rect x="367.60" y="568.0" width="74.60" height="39.799999999999955" fill="#53bd9f"/>
<rect x="441.90" y="568.0" width="74.60" height="39.799999999999955" fill="#32a696"/>
<rect x="516.20" y="568.0" width="74.60" height="39.799999999999955" fill="#3296b4"/>
<rect x="590.50" y="568.0" width="74.60" height="39.799999999999955" fill="#0570b0"/>
<rect x="664.80" y="568.0" width="74.60" height="39.799999999999955" fill="#05508c"/>
<rect x="739.10" y="568.0" width="74.60" height="39.799999999999955" fill="#0a1f96"/>
<rect x="813.40" y="568.0" width="74.60" height="39.799999999999955" fill="#2c0246"/>
<rect x="887.70" y="568.0" width="74.60" height="39.799999999999955" fill="#6a2c5a"/>
<text transform="translate(144.5,633.6) scale(0.955,1)" text-anchor="middle" class="tl">-2.4</text>
<text transform="translate(887.5,633.6) scale(0.955,1)" text-anchor="middle" class="tl">2.5</text>
<text x="515.6" y="25.4" text-anchor="middle" class="tt">precip<tspan dy="2.7">_</tspan><tspan dy="-2.7">11lev (12 colors)</tspan></text>
</svg>
</body></html>
